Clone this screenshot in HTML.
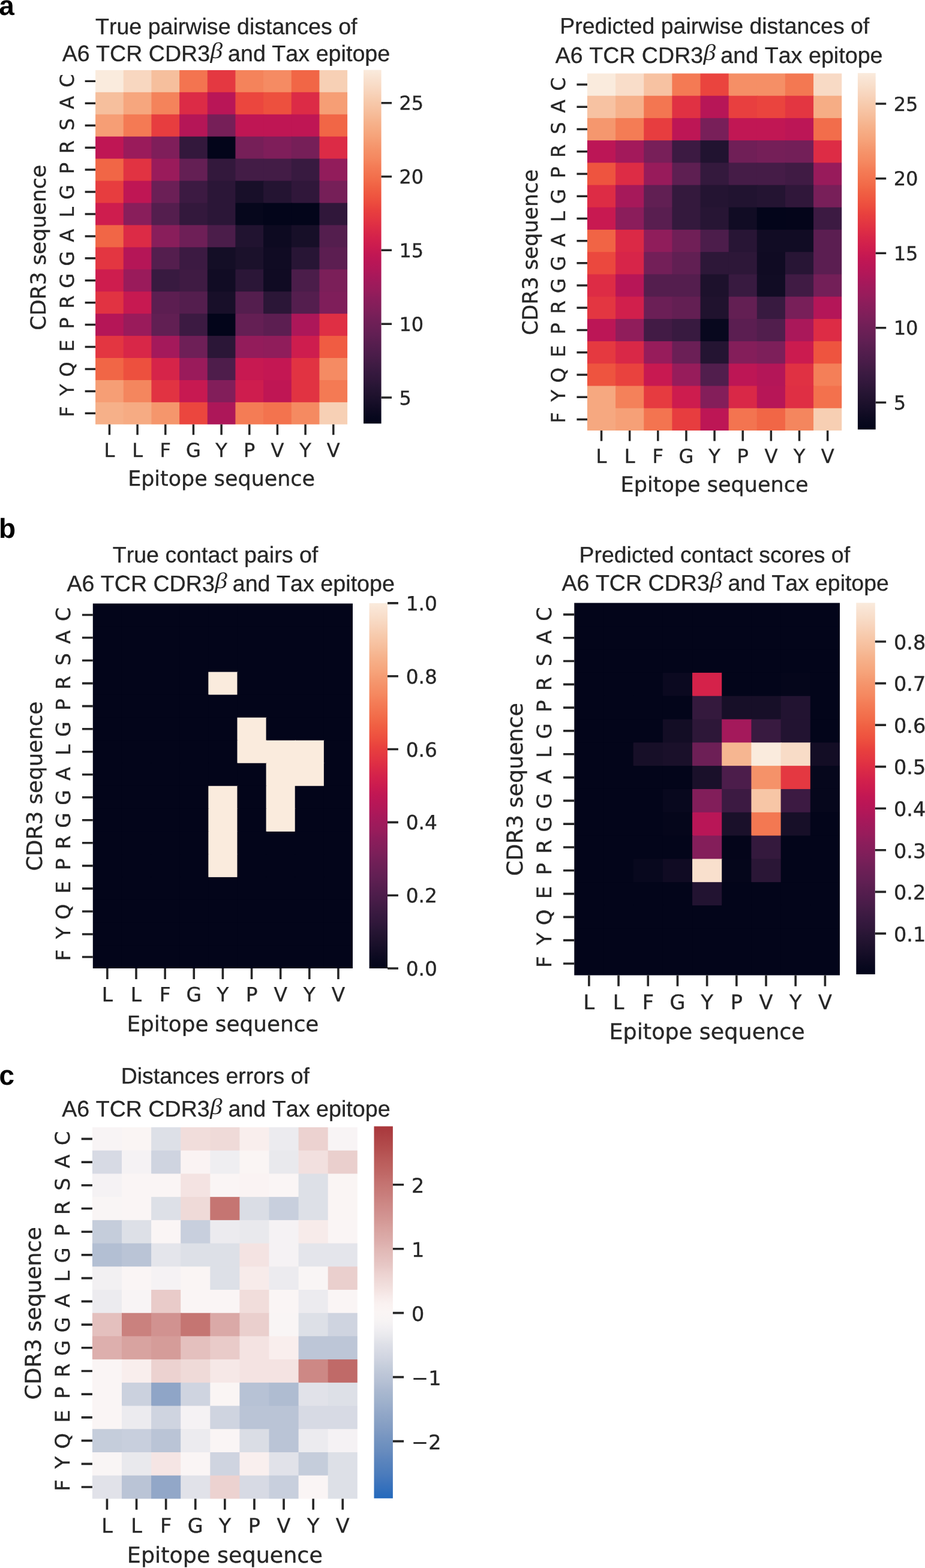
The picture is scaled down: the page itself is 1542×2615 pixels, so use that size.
<!DOCTYPE html>
<html lang="en"><head><meta charset="utf-8"><title>TCR–epitope distance and contact heatmaps</title>
<style>html,body{margin:0;padding:0;background:#fff}body{width:1542px;height:2615px;overflow:hidden}svg{display:block}</style>
</head><body>
<svg width="1542" height="2615" viewBox="0 0 1542 2615" role="img" aria-label="Heat maps of TCR CDR3β and Tax epitope distances, contacts and distance errors" text-rendering="geometricPrecision"><defs><linearGradient id="ga1" x1="0" y1="0" x2="0" y2="1"><stop offset="0.0000" stop-color="#faebdd"/><stop offset="0.0208" stop-color="#f9e3d2"/><stop offset="0.0417" stop-color="#f8dcc7"/><stop offset="0.0625" stop-color="#f8d4bc"/><stop offset="0.0833" stop-color="#f7ccaf"/><stop offset="0.1042" stop-color="#f7c4a4"/><stop offset="0.1250" stop-color="#f6bc99"/><stop offset="0.1458" stop-color="#f6b38d"/><stop offset="0.1667" stop-color="#f6ab83"/><stop offset="0.1875" stop-color="#f6a37a"/><stop offset="0.2083" stop-color="#f59970"/><stop offset="0.2292" stop-color="#f59067"/><stop offset="0.2500" stop-color="#f58860"/><stop offset="0.2708" stop-color="#f47d57"/><stop offset="0.2917" stop-color="#f37450"/><stop offset="0.3125" stop-color="#f26b49"/><stop offset="0.3333" stop-color="#f06043"/><stop offset="0.3542" stop-color="#ef5640"/><stop offset="0.3750" stop-color="#ec4c3e"/><stop offset="0.3958" stop-color="#e8403e"/><stop offset="0.4167" stop-color="#e43841"/><stop offset="0.4375" stop-color="#df2f44"/><stop offset="0.4583" stop-color="#d82748"/><stop offset="0.4792" stop-color="#d2204c"/><stop offset="0.5000" stop-color="#cb1b4f"/><stop offset="0.5208" stop-color="#c21753"/><stop offset="0.5417" stop-color="#ba1656"/><stop offset="0.5625" stop-color="#b21758"/><stop offset="0.5833" stop-color="#a8185a"/><stop offset="0.6042" stop-color="#9f1a5b"/><stop offset="0.6250" stop-color="#971c5b"/><stop offset="0.6458" stop-color="#8c1d5b"/><stop offset="0.6667" stop-color="#841e5a"/><stop offset="0.6875" stop-color="#7b1f59"/><stop offset="0.7083" stop-color="#711f57"/><stop offset="0.7292" stop-color="#691f55"/><stop offset="0.7500" stop-color="#611f53"/><stop offset="0.7708" stop-color="#581e4f"/><stop offset="0.7917" stop-color="#501d4c"/><stop offset="0.8125" stop-color="#481c48"/><stop offset="0.8333" stop-color="#3f1b43"/><stop offset="0.8542" stop-color="#37193f"/><stop offset="0.8750" stop-color="#30173a"/><stop offset="0.8958" stop-color="#271534"/><stop offset="0.9167" stop-color="#20122e"/><stop offset="0.9375" stop-color="#180f29"/><stop offset="0.9583" stop-color="#100b23"/><stop offset="0.9792" stop-color="#08081e"/><stop offset="1.0000" stop-color="#03051a"/></linearGradient><linearGradient id="ga2" x1="0" y1="0" x2="0" y2="1"><stop offset="0.0000" stop-color="#faebdd"/><stop offset="0.0208" stop-color="#f9e3d2"/><stop offset="0.0417" stop-color="#f8dcc7"/><stop offset="0.0625" stop-color="#f8d4bc"/><stop offset="0.0833" stop-color="#f7ccaf"/><stop offset="0.1042" stop-color="#f7c4a4"/><stop offset="0.1250" stop-color="#f6bc99"/><stop offset="0.1458" stop-color="#f6b38d"/><stop offset="0.1667" stop-color="#f6ab83"/><stop offset="0.1875" stop-color="#f6a37a"/><stop offset="0.2083" stop-color="#f59970"/><stop offset="0.2292" stop-color="#f59067"/><stop offset="0.2500" stop-color="#f58860"/><stop offset="0.2708" stop-color="#f47d57"/><stop offset="0.2917" stop-color="#f37450"/><stop offset="0.3125" stop-color="#f26b49"/><stop offset="0.3333" stop-color="#f06043"/><stop offset="0.3542" stop-color="#ef5640"/><stop offset="0.3750" stop-color="#ec4c3e"/><stop offset="0.3958" stop-color="#e8403e"/><stop offset="0.4167" stop-color="#e43841"/><stop offset="0.4375" stop-color="#df2f44"/><stop offset="0.4583" stop-color="#d82748"/><stop offset="0.4792" stop-color="#d2204c"/><stop offset="0.5000" stop-color="#cb1b4f"/><stop offset="0.5208" stop-color="#c21753"/><stop offset="0.5417" stop-color="#ba1656"/><stop offset="0.5625" stop-color="#b21758"/><stop offset="0.5833" stop-color="#a8185a"/><stop offset="0.6042" stop-color="#9f1a5b"/><stop offset="0.6250" stop-color="#971c5b"/><stop offset="0.6458" stop-color="#8c1d5b"/><stop offset="0.6667" stop-color="#841e5a"/><stop offset="0.6875" stop-color="#7b1f59"/><stop offset="0.7083" stop-color="#711f57"/><stop offset="0.7292" stop-color="#691f55"/><stop offset="0.7500" stop-color="#611f53"/><stop offset="0.7708" stop-color="#581e4f"/><stop offset="0.7917" stop-color="#501d4c"/><stop offset="0.8125" stop-color="#481c48"/><stop offset="0.8333" stop-color="#3f1b43"/><stop offset="0.8542" stop-color="#37193f"/><stop offset="0.8750" stop-color="#30173a"/><stop offset="0.8958" stop-color="#271534"/><stop offset="0.9167" stop-color="#20122e"/><stop offset="0.9375" stop-color="#180f29"/><stop offset="0.9583" stop-color="#100b23"/><stop offset="0.9792" stop-color="#08081e"/><stop offset="1.0000" stop-color="#03051a"/></linearGradient><linearGradient id="gb1" x1="0" y1="0" x2="0" y2="1"><stop offset="0.0000" stop-color="#faebdd"/><stop offset="0.0208" stop-color="#f9e3d2"/><stop offset="0.0417" stop-color="#f8dcc7"/><stop offset="0.0625" stop-color="#f8d4bc"/><stop offset="0.0833" stop-color="#f7ccaf"/><stop offset="0.1042" stop-color="#f7c4a4"/><stop offset="0.1250" stop-color="#f6bc99"/><stop offset="0.1458" stop-color="#f6b38d"/><stop offset="0.1667" stop-color="#f6ab83"/><stop offset="0.1875" stop-color="#f6a37a"/><stop offset="0.2083" stop-color="#f59970"/><stop offset="0.2292" stop-color="#f59067"/><stop offset="0.2500" stop-color="#f58860"/><stop offset="0.2708" stop-color="#f47d57"/><stop offset="0.2917" stop-color="#f37450"/><stop offset="0.3125" stop-color="#f26b49"/><stop offset="0.3333" stop-color="#f06043"/><stop offset="0.3542" stop-color="#ef5640"/><stop offset="0.3750" stop-color="#ec4c3e"/><stop offset="0.3958" stop-color="#e8403e"/><stop offset="0.4167" stop-color="#e43841"/><stop offset="0.4375" stop-color="#df2f44"/><stop offset="0.4583" stop-color="#d82748"/><stop offset="0.4792" stop-color="#d2204c"/><stop offset="0.5000" stop-color="#cb1b4f"/><stop offset="0.5208" stop-color="#c21753"/><stop offset="0.5417" stop-color="#ba1656"/><stop offset="0.5625" stop-color="#b21758"/><stop offset="0.5833" stop-color="#a8185a"/><stop offset="0.6042" stop-color="#9f1a5b"/><stop offset="0.6250" stop-color="#971c5b"/><stop offset="0.6458" stop-color="#8c1d5b"/><stop offset="0.6667" stop-color="#841e5a"/><stop offset="0.6875" stop-color="#7b1f59"/><stop offset="0.7083" stop-color="#711f57"/><stop offset="0.7292" stop-color="#691f55"/><stop offset="0.7500" stop-color="#611f53"/><stop offset="0.7708" stop-color="#581e4f"/><stop offset="0.7917" stop-color="#501d4c"/><stop offset="0.8125" stop-color="#481c48"/><stop offset="0.8333" stop-color="#3f1b43"/><stop offset="0.8542" stop-color="#37193f"/><stop offset="0.8750" stop-color="#30173a"/><stop offset="0.8958" stop-color="#271534"/><stop offset="0.9167" stop-color="#20122e"/><stop offset="0.9375" stop-color="#180f29"/><stop offset="0.9583" stop-color="#100b23"/><stop offset="0.9792" stop-color="#08081e"/><stop offset="1.0000" stop-color="#03051a"/></linearGradient><linearGradient id="gb2" x1="0" y1="0" x2="0" y2="1"><stop offset="0.0000" stop-color="#faebdd"/><stop offset="0.0208" stop-color="#f9e3d2"/><stop offset="0.0417" stop-color="#f8dcc7"/><stop offset="0.0625" stop-color="#f8d4bc"/><stop offset="0.0833" stop-color="#f7ccaf"/><stop offset="0.1042" stop-color="#f7c4a4"/><stop offset="0.1250" stop-color="#f6bc99"/><stop offset="0.1458" stop-color="#f6b38d"/><stop offset="0.1667" stop-color="#f6ab83"/><stop offset="0.1875" stop-color="#f6a37a"/><stop offset="0.2083" stop-color="#f59970"/><stop offset="0.2292" stop-color="#f59067"/><stop offset="0.2500" stop-color="#f58860"/><stop offset="0.2708" stop-color="#f47d57"/><stop offset="0.2917" stop-color="#f37450"/><stop offset="0.3125" stop-color="#f26b49"/><stop offset="0.3333" stop-color="#f06043"/><stop offset="0.3542" stop-color="#ef5640"/><stop offset="0.3750" stop-color="#ec4c3e"/><stop offset="0.3958" stop-color="#e8403e"/><stop offset="0.4167" stop-color="#e43841"/><stop offset="0.4375" stop-color="#df2f44"/><stop offset="0.4583" stop-color="#d82748"/><stop offset="0.4792" stop-color="#d2204c"/><stop offset="0.5000" stop-color="#cb1b4f"/><stop offset="0.5208" stop-color="#c21753"/><stop offset="0.5417" stop-color="#ba1656"/><stop offset="0.5625" stop-color="#b21758"/><stop offset="0.5833" stop-color="#a8185a"/><stop offset="0.6042" stop-color="#9f1a5b"/><stop offset="0.6250" stop-color="#971c5b"/><stop offset="0.6458" stop-color="#8c1d5b"/><stop offset="0.6667" stop-color="#841e5a"/><stop offset="0.6875" stop-color="#7b1f59"/><stop offset="0.7083" stop-color="#711f57"/><stop offset="0.7292" stop-color="#691f55"/><stop offset="0.7500" stop-color="#611f53"/><stop offset="0.7708" stop-color="#581e4f"/><stop offset="0.7917" stop-color="#501d4c"/><stop offset="0.8125" stop-color="#481c48"/><stop offset="0.8333" stop-color="#3f1b43"/><stop offset="0.8542" stop-color="#37193f"/><stop offset="0.8750" stop-color="#30173a"/><stop offset="0.8958" stop-color="#271534"/><stop offset="0.9167" stop-color="#20122e"/><stop offset="0.9375" stop-color="#180f29"/><stop offset="0.9583" stop-color="#100b23"/><stop offset="0.9792" stop-color="#08081e"/><stop offset="1.0000" stop-color="#03051a"/></linearGradient><linearGradient id="gc" x1="0" y1="0" x2="0" y2="1"><stop offset="0.0000" stop-color="#a9373b"/><stop offset="0.0208" stop-color="#ac3f42"/><stop offset="0.0417" stop-color="#b04748"/><stop offset="0.0625" stop-color="#b44f4f"/><stop offset="0.0833" stop-color="#b85857"/><stop offset="0.1042" stop-color="#bc605e"/><stop offset="0.1250" stop-color="#bf6765"/><stop offset="0.1458" stop-color="#c3706e"/><stop offset="0.1667" stop-color="#c67875"/><stop offset="0.1875" stop-color="#c97f7d"/><stop offset="0.2083" stop-color="#cd8885"/><stop offset="0.2292" stop-color="#d08f8d"/><stop offset="0.2500" stop-color="#d39794"/><stop offset="0.2708" stop-color="#d7a09d"/><stop offset="0.2917" stop-color="#daa8a5"/><stop offset="0.3125" stop-color="#ddafad"/><stop offset="0.3333" stop-color="#e1b9b6"/><stop offset="0.3542" stop-color="#e4c0be"/><stop offset="0.3750" stop-color="#e7c8c6"/><stop offset="0.3958" stop-color="#ecd2d0"/><stop offset="0.4167" stop-color="#efdad8"/><stop offset="0.4375" stop-color="#f3e2e0"/><stop offset="0.4583" stop-color="#f7ebea"/><stop offset="0.4792" stop-color="#faf2f1"/><stop offset="0.5000" stop-color="#faf5f4"/><stop offset="0.5208" stop-color="#f7f4f4"/><stop offset="0.5417" stop-color="#f1eff2"/><stop offset="0.5625" stop-color="#e9e9ed"/><stop offset="0.5833" stop-color="#dfe1e8"/><stop offset="0.6042" stop-color="#d7dae4"/><stop offset="0.6250" stop-color="#cfd4e0"/><stop offset="0.6458" stop-color="#c5cddb"/><stop offset="0.6667" stop-color="#bdc6d7"/><stop offset="0.6875" stop-color="#b5c0d4"/><stop offset="0.7083" stop-color="#abb9d0"/><stop offset="0.7292" stop-color="#a3b4cd"/><stop offset="0.7500" stop-color="#9baecb"/><stop offset="0.7708" stop-color="#92a7c8"/><stop offset="0.7917" stop-color="#8aa2c5"/><stop offset="0.8125" stop-color="#829cc3"/><stop offset="0.8333" stop-color="#7896c1"/><stop offset="0.8542" stop-color="#6f91bf"/><stop offset="0.8750" stop-color="#678bbe"/><stop offset="0.8958" stop-color="#5c85bd"/><stop offset="0.9167" stop-color="#5380bc"/><stop offset="0.9375" stop-color="#4a7bbc"/><stop offset="0.9583" stop-color="#3d74bc"/><stop offset="0.9792" stop-color="#316fbc"/><stop offset="1.0000" stop-color="#2369bd"/></linearGradient></defs><rect width="1542" height="2615" fill="#fff"/><g id="pa1"><rect x="157.1" y="114.9" width="49.97" height="40.23" fill="#faebdd"/><rect x="205.77" y="114.9" width="47.97" height="40.23" fill="#f8d7c0"/><rect x="252.43" y="114.9" width="47.97" height="40.23" fill="#f6bf9d"/><rect x="299.1" y="114.9" width="47.97" height="40.23" fill="#f37450"/><rect x="345.77" y="114.9" width="47.97" height="40.23" fill="#e43841"/><rect x="392.43" y="114.9" width="47.97" height="40.23" fill="#f4835b"/><rect x="439.1" y="114.9" width="47.97" height="40.23" fill="#f58b63"/><rect x="485.77" y="114.9" width="47.97" height="40.23" fill="#f16646"/><rect x="532.43" y="114.9" width="48.67" height="40.23" fill="#f7d0b5"/><rect x="157.1" y="153.83" width="49.97" height="38.23" fill="#f6bf9d"/><rect x="205.77" y="153.83" width="47.97" height="38.23" fill="#f6a67e"/><rect x="252.43" y="153.83" width="47.97" height="38.23" fill="#f4835b"/><rect x="299.1" y="153.83" width="47.97" height="38.23" fill="#dc2b46"/><rect x="345.77" y="153.83" width="47.97" height="38.23" fill="#b91657"/><rect x="392.43" y="153.83" width="47.97" height="38.23" fill="#eb463e"/><rect x="439.1" y="153.83" width="47.97" height="38.23" fill="#ed503e"/><rect x="485.77" y="153.83" width="47.97" height="38.23" fill="#dc2b46"/><rect x="532.43" y="153.83" width="48.67" height="38.23" fill="#f69e75"/><rect x="157.1" y="190.76" width="49.97" height="38.23" fill="#f69e75"/><rect x="205.77" y="190.76" width="47.97" height="38.23" fill="#f47a54"/><rect x="252.43" y="190.76" width="47.97" height="38.23" fill="#e73d3f"/><rect x="299.1" y="190.76" width="47.97" height="38.23" fill="#b51657"/><rect x="345.77" y="190.76" width="47.97" height="38.23" fill="#761f58"/><rect x="392.43" y="190.76" width="47.97" height="38.23" fill="#bf1654"/><rect x="439.1" y="190.76" width="47.97" height="38.23" fill="#bf1654"/><rect x="485.77" y="190.76" width="47.97" height="38.23" fill="#bf1654"/><rect x="532.43" y="190.76" width="48.67" height="38.23" fill="#f16646"/><rect x="157.1" y="227.69" width="49.97" height="38.23" fill="#bf1654"/><rect x="205.77" y="227.69" width="47.97" height="38.23" fill="#9a1b5b"/><rect x="252.43" y="227.69" width="47.97" height="38.23" fill="#7f1e5a"/><rect x="299.1" y="227.69" width="47.97" height="38.23" fill="#33183c"/><rect x="345.77" y="227.69" width="47.97" height="38.23" fill="#03051a"/><rect x="392.43" y="227.69" width="47.97" height="38.23" fill="#761f58"/><rect x="439.1" y="227.69" width="47.97" height="38.23" fill="#7f1e5a"/><rect x="485.77" y="227.69" width="47.97" height="38.23" fill="#761f58"/><rect x="532.43" y="227.69" width="48.67" height="38.23" fill="#dc2b46"/><rect x="157.1" y="264.62" width="49.97" height="38.23" fill="#f16646"/><rect x="205.77" y="264.62" width="47.97" height="38.23" fill="#e13342"/><rect x="252.43" y="264.62" width="47.97" height="38.23" fill="#9a1b5b"/><rect x="299.1" y="264.62" width="47.97" height="38.23" fill="#641f54"/><rect x="345.77" y="264.62" width="47.97" height="38.23" fill="#33183c"/><rect x="392.43" y="264.62" width="47.97" height="38.23" fill="#431c46"/><rect x="439.1" y="264.62" width="47.97" height="38.23" fill="#431c46"/><rect x="485.77" y="264.62" width="47.97" height="38.23" fill="#381a40"/><rect x="532.43" y="264.62" width="48.67" height="38.23" fill="#921c5b"/><rect x="157.1" y="301.56" width="49.97" height="38.23" fill="#e73d3f"/><rect x="205.77" y="301.56" width="47.97" height="38.23" fill="#bf1654"/><rect x="252.43" y="301.56" width="47.97" height="38.23" fill="#6b1f56"/><rect x="299.1" y="301.56" width="47.97" height="38.23" fill="#3c1a42"/><rect x="345.77" y="301.56" width="47.97" height="38.23" fill="#2b1637"/><rect x="392.43" y="301.56" width="47.97" height="38.23" fill="#180f29"/><rect x="439.1" y="301.56" width="47.97" height="38.23" fill="#241432"/><rect x="485.77" y="301.56" width="47.97" height="38.23" fill="#30173a"/><rect x="532.43" y="301.56" width="48.67" height="38.23" fill="#761f58"/><rect x="157.1" y="338.49" width="49.97" height="38.23" fill="#ce1d4e"/><rect x="205.77" y="338.49" width="47.97" height="38.23" fill="#891e5b"/><rect x="252.43" y="338.49" width="47.97" height="38.23" fill="#541e4e"/><rect x="299.1" y="338.49" width="47.97" height="38.23" fill="#33183c"/><rect x="345.77" y="338.49" width="47.97" height="38.23" fill="#2b1637"/><rect x="392.43" y="338.49" width="47.97" height="38.23" fill="#06071c"/><rect x="439.1" y="338.49" width="47.97" height="38.23" fill="#03051a"/><rect x="485.77" y="338.49" width="47.97" height="38.23" fill="#03051a"/><rect x="532.43" y="338.49" width="48.67" height="38.23" fill="#30173a"/><rect x="157.1" y="375.42" width="49.97" height="38.23" fill="#f16646"/><rect x="205.77" y="375.42" width="47.97" height="38.23" fill="#dc2b46"/><rect x="252.43" y="375.42" width="47.97" height="38.23" fill="#891e5b"/><rect x="299.1" y="375.42" width="47.97" height="38.23" fill="#6e1f57"/><rect x="345.77" y="375.42" width="47.97" height="38.23" fill="#4b1d4a"/><rect x="392.43" y="375.42" width="47.97" height="38.23" fill="#211330"/><rect x="439.1" y="375.42" width="47.97" height="38.23" fill="#0d0a21"/><rect x="485.77" y="375.42" width="47.97" height="38.23" fill="#170f28"/><rect x="532.43" y="375.42" width="48.67" height="38.23" fill="#541e4e"/><rect x="157.1" y="412.35" width="49.97" height="38.23" fill="#e33641"/><rect x="205.77" y="412.35" width="47.97" height="38.23" fill="#b51657"/><rect x="252.43" y="412.35" width="47.97" height="38.23" fill="#541e4e"/><rect x="299.1" y="412.35" width="47.97" height="38.23" fill="#3c1a42"/><rect x="345.77" y="412.35" width="47.97" height="38.23" fill="#140e26"/><rect x="392.43" y="412.35" width="47.97" height="38.23" fill="#1b112b"/><rect x="439.1" y="412.35" width="47.97" height="38.23" fill="#100b23"/><rect x="485.77" y="412.35" width="47.97" height="38.23" fill="#281535"/><rect x="532.43" y="412.35" width="48.67" height="38.23" fill="#5c1e51"/><rect x="157.1" y="449.28" width="49.97" height="38.23" fill="#ce1d4e"/><rect x="205.77" y="449.28" width="47.97" height="38.23" fill="#9a1b5b"/><rect x="252.43" y="449.28" width="47.97" height="38.23" fill="#381a40"/><rect x="299.1" y="449.28" width="47.97" height="38.23" fill="#3f1b43"/><rect x="345.77" y="449.28" width="47.97" height="38.23" fill="#110c24"/><rect x="392.43" y="449.28" width="47.97" height="38.23" fill="#2b1637"/><rect x="439.1" y="449.28" width="47.97" height="38.23" fill="#100b23"/><rect x="485.77" y="449.28" width="47.97" height="38.23" fill="#4b1d4a"/><rect x="532.43" y="449.28" width="48.67" height="38.23" fill="#7b1f59"/><rect x="157.1" y="486.21" width="49.97" height="38.23" fill="#e13342"/><rect x="205.77" y="486.21" width="47.97" height="38.23" fill="#c71951"/><rect x="252.43" y="486.21" width="47.97" height="38.23" fill="#5c1e51"/><rect x="299.1" y="486.21" width="47.97" height="38.23" fill="#541e4e"/><rect x="345.77" y="486.21" width="47.97" height="38.23" fill="#180f29"/><rect x="392.43" y="486.21" width="47.97" height="38.23" fill="#541e4e"/><rect x="439.1" y="486.21" width="47.97" height="38.23" fill="#2b1637"/><rect x="485.77" y="486.21" width="47.97" height="38.23" fill="#541e4e"/><rect x="532.43" y="486.21" width="48.67" height="38.23" fill="#7f1e5a"/><rect x="157.1" y="523.14" width="49.97" height="38.23" fill="#b51657"/><rect x="205.77" y="523.14" width="47.97" height="38.23" fill="#9a1b5b"/><rect x="252.43" y="523.14" width="47.97" height="38.23" fill="#611f53"/><rect x="299.1" y="523.14" width="47.97" height="38.23" fill="#3c1a42"/><rect x="345.77" y="523.14" width="47.97" height="38.23" fill="#03051a"/><rect x="392.43" y="523.14" width="47.97" height="38.23" fill="#641f54"/><rect x="439.1" y="523.14" width="47.97" height="38.23" fill="#5c1e51"/><rect x="485.77" y="523.14" width="47.97" height="38.23" fill="#ad1759"/><rect x="532.43" y="523.14" width="48.67" height="38.23" fill="#df2f44"/><rect x="157.1" y="560.07" width="49.97" height="38.23" fill="#e33641"/><rect x="205.77" y="560.07" width="47.97" height="38.23" fill="#d82748"/><rect x="252.43" y="560.07" width="47.97" height="38.23" fill="#a4195b"/><rect x="299.1" y="560.07" width="47.97" height="38.23" fill="#6e1f57"/><rect x="345.77" y="560.07" width="47.97" height="38.23" fill="#2b1637"/><rect x="392.43" y="560.07" width="47.97" height="38.23" fill="#931c5b"/><rect x="439.1" y="560.07" width="47.97" height="38.23" fill="#901d5b"/><rect x="485.77" y="560.07" width="47.97" height="38.23" fill="#ce1d4e"/><rect x="532.43" y="560.07" width="48.67" height="38.23" fill="#f05c42"/><rect x="157.1" y="597.01" width="49.97" height="38.23" fill="#f16646"/><rect x="205.77" y="597.01" width="47.97" height="38.23" fill="#ed503e"/><rect x="252.43" y="597.01" width="47.97" height="38.23" fill="#d62449"/><rect x="299.1" y="597.01" width="47.97" height="38.23" fill="#9a1b5b"/><rect x="345.77" y="597.01" width="47.97" height="38.23" fill="#4e1d4b"/><rect x="392.43" y="597.01" width="47.97" height="38.23" fill="#c71951"/><rect x="439.1" y="597.01" width="47.97" height="38.23" fill="#c41753"/><rect x="485.77" y="597.01" width="47.97" height="38.23" fill="#e13342"/><rect x="532.43" y="597.01" width="48.67" height="38.23" fill="#f58b63"/><rect x="157.1" y="633.94" width="49.97" height="38.23" fill="#f69e75"/><rect x="205.77" y="633.94" width="47.97" height="38.23" fill="#f4865e"/><rect x="252.43" y="633.94" width="47.97" height="38.23" fill="#e13342"/><rect x="299.1" y="633.94" width="47.97" height="38.23" fill="#c71951"/><rect x="345.77" y="633.94" width="47.97" height="38.23" fill="#821e5a"/><rect x="392.43" y="633.94" width="47.97" height="38.23" fill="#ce1d4e"/><rect x="439.1" y="633.94" width="47.97" height="38.23" fill="#bf1654"/><rect x="485.77" y="633.94" width="47.97" height="38.23" fill="#e13342"/><rect x="532.43" y="633.94" width="48.67" height="38.23" fill="#f47a54"/><rect x="157.1" y="670.87" width="49.97" height="38.93" fill="#f6b089"/><rect x="205.77" y="670.87" width="47.97" height="38.93" fill="#f6ab83"/><rect x="252.43" y="670.87" width="47.97" height="38.93" fill="#f5966c"/><rect x="299.1" y="670.87" width="47.97" height="38.93" fill="#eb463e"/><rect x="345.77" y="670.87" width="47.97" height="38.93" fill="#ad1759"/><rect x="392.43" y="670.87" width="47.97" height="38.93" fill="#f47c55"/><rect x="439.1" y="670.87" width="47.97" height="38.93" fill="#f3734e"/><rect x="485.77" y="670.87" width="47.97" height="38.93" fill="#f58a61"/><rect x="532.43" y="670.87" width="48.67" height="38.93" fill="#f7d0b5"/><path d="M155.1 112.9H583.1V711.8H155.1ZM159.1 116.9V707.8H579.1V116.9Z" fill="#fff" fill-rule="evenodd"/><rect x="606" y="116.6" width="29.6" height="589.8" fill="url(#ga1)"/><path d="M141.64 135.37H159.1M141.64 172.3H159.1M141.64 209.23H159.1M141.64 246.16H159.1M141.64 283.09H159.1M141.64 320.02H159.1M141.64 356.95H159.1M141.64 393.88H159.1M141.64 430.82H159.1M141.64 467.75H159.1M141.64 504.68H159.1M141.64 541.61H159.1M141.64 578.54H159.1M141.64 615.47H159.1M141.64 652.4H159.1M141.64 689.33H159.1M182.43 707.8V725.26M229.1 707.8V725.26M275.77 707.8V725.26M322.43 707.8V725.26M369.1 707.8V725.26M415.77 707.8V725.26M462.43 707.8V725.26M509.1 707.8V725.26M555.77 707.8V725.26M635.6 662.99H653.06M635.6 540.17H653.06M635.6 417.35H653.06M635.6 294.52H653.06M635.6 171.7H653.06" stroke="#262626" stroke-width="3.49" fill="none"/><g font-family="'DejaVu Sans', sans-serif" font-size="32.01" fill="#262626" stroke="#262626" stroke-width="0.35" text-anchor="middle"><text transform="translate(122.71 123.3) rotate(-90)" text-anchor="end">C</text><text transform="translate(122.71 160.23) rotate(-90)" text-anchor="end">A</text><text transform="translate(122.71 197.16) rotate(-90)" text-anchor="end">S</text><text transform="translate(122.71 234.09) rotate(-90)" text-anchor="end">R</text><text transform="translate(122.71 271.02) rotate(-90)" text-anchor="end">P</text><text transform="translate(122.71 307.96) rotate(-90)" text-anchor="end">G</text><text transform="translate(122.71 344.89) rotate(-90)" text-anchor="end">L</text><text transform="translate(122.71 381.82) rotate(-90)" text-anchor="end">A</text><text transform="translate(122.71 418.75) rotate(-90)" text-anchor="end">G</text><text transform="translate(122.71 455.68) rotate(-90)" text-anchor="end">G</text><text transform="translate(122.71 492.61) rotate(-90)" text-anchor="end">R</text><text transform="translate(122.71 529.54) rotate(-90)" text-anchor="end">P</text><text transform="translate(122.71 566.47) rotate(-90)" text-anchor="end">E</text><text transform="translate(122.71 603.41) rotate(-90)" text-anchor="end">Q</text><text transform="translate(122.71 640.34) rotate(-90)" text-anchor="end">Y</text><text transform="translate(122.71 677.27) rotate(-90)" text-anchor="end">F</text><text x="182.43" y="761.69">L</text><text x="229.1" y="761.69">L</text><text x="275.77" y="761.69">F</text><text x="322.43" y="761.69">G</text><text x="369.1" y="761.69">Y</text><text x="415.77" y="761.69">P</text><text x="462.43" y="761.69">V</text><text x="509.1" y="761.69">Y</text><text x="555.77" y="761.69">V</text></g><g font-family="'DejaVu Sans', sans-serif" font-size="32.01" fill="#262626" stroke="#262626" stroke-width="0.35"><text x="665.48" y="674.68">5</text><text x="665.48" y="551.85">10</text><text x="665.48" y="429.03">15</text><text x="665.48" y="306.21">20</text><text x="665.48" y="183.38">25</text></g><g font-family="'DejaVu Sans', sans-serif" font-size="34.92" fill="#262626" stroke="#262626" stroke-width="0.35" text-anchor="middle"><text x="369.1" y="809.84">Epitope sequence</text><text transform="translate(76.46 412.74) rotate(-90)" font-size="34.75">CDR3 sequence</text></g><g font-family="'Liberation Sans', sans-serif" font-size="37.6" fill="#262626" stroke="#262626" stroke-width="0.3" style="font-kerning:none"><text x="159" y="56.9" font-size="37.58">True pairwise distances of</text><text x="103.7" y="102">A6 TCR CDR3<tspan x="350.6" y="97.4" font-family="'Liberation Serif', serif" font-style="italic" stroke="none" font-size="37.6" textLength="20.6" lengthAdjust="spacingAndGlyphs">β</tspan><tspan x="369.52" y="102" font-size="37.7"> and Tax epitope</tspan></text></g></g>
<g id="pa2"><rect x="977" y="120.5" width="50.43" height="40.52" fill="#faebdd"/><rect x="1026.13" y="120.5" width="48.43" height="40.52" fill="#f9ddc9"/><rect x="1073.27" y="120.5" width="48.43" height="40.52" fill="#f7c2a2"/><rect x="1120.4" y="120.5" width="48.43" height="40.52" fill="#f47a54"/><rect x="1167.53" y="120.5" width="48.43" height="40.52" fill="#ea443e"/><rect x="1214.67" y="120.5" width="48.43" height="40.52" fill="#f58f66"/><rect x="1261.8" y="120.5" width="48.43" height="40.52" fill="#f58f66"/><rect x="1308.93" y="120.5" width="48.43" height="40.52" fill="#f37852"/><rect x="1356.07" y="120.5" width="49.13" height="40.52" fill="#f8dac5"/><rect x="977" y="159.72" width="50.43" height="38.52" fill="#f7c2a2"/><rect x="1026.13" y="159.72" width="48.43" height="38.52" fill="#f6b18b"/><rect x="1073.27" y="159.72" width="48.43" height="38.52" fill="#f37651"/><rect x="1120.4" y="159.72" width="48.43" height="38.52" fill="#e03143"/><rect x="1167.53" y="159.72" width="48.43" height="38.52" fill="#b71657"/><rect x="1214.67" y="159.72" width="48.43" height="38.52" fill="#e83f3f"/><rect x="1261.8" y="159.72" width="48.43" height="38.52" fill="#ea443e"/><rect x="1308.93" y="159.72" width="48.43" height="38.52" fill="#e33641"/><rect x="1356.07" y="159.72" width="49.13" height="38.52" fill="#f6ad85"/><rect x="977" y="196.94" width="50.43" height="38.52" fill="#f5976e"/><rect x="1026.13" y="196.94" width="48.43" height="38.52" fill="#f47c55"/><rect x="1073.27" y="196.94" width="48.43" height="38.52" fill="#e73d3f"/><rect x="1120.4" y="196.94" width="48.43" height="38.52" fill="#bd1655"/><rect x="1167.53" y="196.94" width="48.43" height="38.52" fill="#781f59"/><rect x="1214.67" y="196.94" width="48.43" height="38.52" fill="#c11754"/><rect x="1261.8" y="196.94" width="48.43" height="38.52" fill="#c11754"/><rect x="1308.93" y="196.94" width="48.43" height="38.52" fill="#bc1656"/><rect x="1356.07" y="196.94" width="49.13" height="38.52" fill="#f26d4b"/><rect x="977" y="234.16" width="50.43" height="38.52" fill="#bc1656"/><rect x="1026.13" y="234.16" width="48.43" height="38.52" fill="#a3195b"/><rect x="1073.27" y="234.16" width="48.43" height="38.52" fill="#781f59"/><rect x="1120.4" y="234.16" width="48.43" height="38.52" fill="#3c1a42"/><rect x="1167.53" y="234.16" width="48.43" height="38.52" fill="#211330"/><rect x="1214.67" y="234.16" width="48.43" height="38.52" fill="#701f57"/><rect x="1261.8" y="234.16" width="48.43" height="38.52" fill="#751f58"/><rect x="1308.93" y="234.16" width="48.43" height="38.52" fill="#731f58"/><rect x="1356.07" y="234.16" width="49.13" height="38.52" fill="#dd2c45"/><rect x="977" y="271.38" width="50.43" height="38.52" fill="#ee543f"/><rect x="1026.13" y="271.38" width="48.43" height="38.52" fill="#dd2c45"/><rect x="1073.27" y="271.38" width="48.43" height="38.52" fill="#981b5b"/><rect x="1120.4" y="271.38" width="48.43" height="38.52" fill="#5e1f52"/><rect x="1167.53" y="271.38" width="48.43" height="38.52" fill="#34193d"/><rect x="1214.67" y="271.38" width="48.43" height="38.52" fill="#451c47"/><rect x="1261.8" y="271.38" width="48.43" height="38.52" fill="#451c47"/><rect x="1308.93" y="271.38" width="48.43" height="38.52" fill="#401b44"/><rect x="1356.07" y="271.38" width="49.13" height="38.52" fill="#981b5b"/><rect x="977" y="308.59" width="50.43" height="38.52" fill="#dd2c45"/><rect x="1026.13" y="308.59" width="48.43" height="38.52" fill="#a6195a"/><rect x="1073.27" y="308.59" width="48.43" height="38.52" fill="#611f53"/><rect x="1120.4" y="308.59" width="48.43" height="38.52" fill="#34193d"/><rect x="1167.53" y="308.59" width="48.43" height="38.52" fill="#241432"/><rect x="1214.67" y="308.59" width="48.43" height="38.52" fill="#211330"/><rect x="1261.8" y="308.59" width="48.43" height="38.52" fill="#241432"/><rect x="1308.93" y="308.59" width="48.43" height="38.52" fill="#30173a"/><rect x="1356.07" y="308.59" width="49.13" height="38.52" fill="#781f59"/><rect x="977" y="345.81" width="50.43" height="38.52" fill="#c81951"/><rect x="1026.13" y="345.81" width="48.43" height="38.52" fill="#8b1d5b"/><rect x="1073.27" y="345.81" width="48.43" height="38.52" fill="#591e50"/><rect x="1120.4" y="345.81" width="48.43" height="38.52" fill="#34193d"/><rect x="1167.53" y="345.81" width="48.43" height="38.52" fill="#271534"/><rect x="1214.67" y="345.81" width="48.43" height="38.52" fill="#110c24"/><rect x="1261.8" y="345.81" width="48.43" height="38.52" fill="#03051a"/><rect x="1308.93" y="345.81" width="48.43" height="38.52" fill="#04051a"/><rect x="1356.07" y="345.81" width="49.13" height="38.52" fill="#3c1a42"/><rect x="977" y="383.03" width="50.43" height="38.52" fill="#f16445"/><rect x="1026.13" y="383.03" width="48.43" height="38.52" fill="#db2946"/><rect x="1073.27" y="383.03" width="48.43" height="38.52" fill="#901d5b"/><rect x="1120.4" y="383.03" width="48.43" height="38.52" fill="#701f57"/><rect x="1167.53" y="383.03" width="48.43" height="38.52" fill="#4c1d4b"/><rect x="1214.67" y="383.03" width="48.43" height="38.52" fill="#281535"/><rect x="1261.8" y="383.03" width="48.43" height="38.52" fill="#110c24"/><rect x="1308.93" y="383.03" width="48.43" height="38.52" fill="#110c24"/><rect x="1356.07" y="383.03" width="49.13" height="38.52" fill="#5b1e51"/><rect x="977" y="420.25" width="50.43" height="38.52" fill="#eb483e"/><rect x="1026.13" y="420.25" width="48.43" height="38.52" fill="#d72549"/><rect x="1073.27" y="420.25" width="48.43" height="38.52" fill="#731f58"/><rect x="1120.4" y="420.25" width="48.43" height="38.52" fill="#611f53"/><rect x="1167.53" y="420.25" width="48.43" height="38.52" fill="#2d1738"/><rect x="1214.67" y="420.25" width="48.43" height="38.52" fill="#2d1738"/><rect x="1261.8" y="420.25" width="48.43" height="38.52" fill="#100b23"/><rect x="1308.93" y="420.25" width="48.43" height="38.52" fill="#281535"/><rect x="1356.07" y="420.25" width="49.13" height="38.52" fill="#5b1e51"/><rect x="977" y="457.47" width="50.43" height="38.52" fill="#dd2c45"/><rect x="1026.13" y="457.47" width="48.43" height="38.52" fill="#b71657"/><rect x="1073.27" y="457.47" width="48.43" height="38.52" fill="#541e4e"/><rect x="1120.4" y="457.47" width="48.43" height="38.52" fill="#541e4e"/><rect x="1167.53" y="457.47" width="48.43" height="38.52" fill="#1d112c"/><rect x="1214.67" y="457.47" width="48.43" height="38.52" fill="#381a40"/><rect x="1261.8" y="457.47" width="48.43" height="38.52" fill="#110c24"/><rect x="1308.93" y="457.47" width="48.43" height="38.52" fill="#401b44"/><rect x="1356.07" y="457.47" width="49.13" height="38.52" fill="#731f58"/><rect x="977" y="494.69" width="50.43" height="38.52" fill="#e33641"/><rect x="1026.13" y="494.69" width="48.43" height="38.52" fill="#d11f4c"/><rect x="1073.27" y="494.69" width="48.43" height="38.52" fill="#6b1f56"/><rect x="1120.4" y="494.69" width="48.43" height="38.52" fill="#631f53"/><rect x="1167.53" y="494.69" width="48.43" height="38.52" fill="#20122e"/><rect x="1214.67" y="494.69" width="48.43" height="38.52" fill="#631f53"/><rect x="1261.8" y="494.69" width="48.43" height="38.52" fill="#381a40"/><rect x="1308.93" y="494.69" width="48.43" height="38.52" fill="#781f59"/><rect x="1356.07" y="494.69" width="49.13" height="38.52" fill="#b41658"/><rect x="977" y="531.91" width="50.43" height="38.52" fill="#bc1656"/><rect x="1026.13" y="531.91" width="48.43" height="38.52" fill="#901d5b"/><rect x="1073.27" y="531.91" width="48.43" height="38.52" fill="#421b45"/><rect x="1120.4" y="531.91" width="48.43" height="38.52" fill="#381a40"/><rect x="1167.53" y="531.91" width="48.43" height="38.52" fill="#08081e"/><rect x="1214.67" y="531.91" width="48.43" height="38.52" fill="#5b1e51"/><rect x="1261.8" y="531.91" width="48.43" height="38.52" fill="#511e4d"/><rect x="1308.93" y="531.91" width="48.43" height="38.52" fill="#aa185a"/><rect x="1356.07" y="531.91" width="49.13" height="38.52" fill="#dd2c45"/><rect x="977" y="569.12" width="50.43" height="38.52" fill="#e53940"/><rect x="1026.13" y="569.12" width="48.43" height="38.52" fill="#d92847"/><rect x="1073.27" y="569.12" width="48.43" height="38.52" fill="#971c5b"/><rect x="1120.4" y="569.12" width="48.43" height="38.52" fill="#6b1f56"/><rect x="1167.53" y="569.12" width="48.43" height="38.52" fill="#241432"/><rect x="1214.67" y="569.12" width="48.43" height="38.52" fill="#841e5a"/><rect x="1261.8" y="569.12" width="48.43" height="38.52" fill="#7d1f5a"/><rect x="1308.93" y="569.12" width="48.43" height="38.52" fill="#cb1b4f"/><rect x="1356.07" y="569.12" width="49.13" height="38.52" fill="#ee543f"/><rect x="977" y="606.34" width="50.43" height="38.52" fill="#ee543f"/><rect x="1026.13" y="606.34" width="48.43" height="38.52" fill="#e9423e"/><rect x="1073.27" y="606.34" width="48.43" height="38.52" fill="#c81951"/><rect x="1120.4" y="606.34" width="48.43" height="38.52" fill="#971c5b"/><rect x="1167.53" y="606.34" width="48.43" height="38.52" fill="#511e4d"/><rect x="1214.67" y="606.34" width="48.43" height="38.52" fill="#bd1655"/><rect x="1261.8" y="606.34" width="48.43" height="38.52" fill="#b41658"/><rect x="1308.93" y="606.34" width="48.43" height="38.52" fill="#e03143"/><rect x="1356.07" y="606.34" width="49.13" height="38.52" fill="#f47f58"/><rect x="977" y="643.56" width="50.43" height="38.52" fill="#f6a880"/><rect x="1026.13" y="643.56" width="48.43" height="38.52" fill="#f4815a"/><rect x="1073.27" y="643.56" width="48.43" height="38.52" fill="#e63b40"/><rect x="1120.4" y="643.56" width="48.43" height="38.52" fill="#cd1c4e"/><rect x="1167.53" y="643.56" width="48.43" height="38.52" fill="#841e5a"/><rect x="1214.67" y="643.56" width="48.43" height="38.52" fill="#d92847"/><rect x="1261.8" y="643.56" width="48.43" height="38.52" fill="#b71657"/><rect x="1308.93" y="643.56" width="48.43" height="38.52" fill="#df2f44"/><rect x="1356.07" y="643.56" width="49.13" height="38.52" fill="#f3714d"/><rect x="977" y="680.78" width="50.43" height="39.22" fill="#f6a880"/><rect x="1026.13" y="680.78" width="48.43" height="39.22" fill="#f6a077"/><rect x="1073.27" y="680.78" width="48.43" height="39.22" fill="#f37450"/><rect x="1120.4" y="680.78" width="48.43" height="39.22" fill="#e73d3f"/><rect x="1167.53" y="680.78" width="48.43" height="39.22" fill="#bd1655"/><rect x="1214.67" y="680.78" width="48.43" height="39.22" fill="#f37450"/><rect x="1261.8" y="680.78" width="48.43" height="39.22" fill="#f16646"/><rect x="1308.93" y="680.78" width="48.43" height="39.22" fill="#f4865e"/><rect x="1356.07" y="680.78" width="49.13" height="39.22" fill="#f7cfb3"/><path d="M975 118.5H1407.2V722H975ZM979 122.5V718H1403.2V122.5Z" fill="#fff" fill-rule="evenodd"/><rect x="1429.9" y="121.8" width="29.8" height="594.5" fill="url(#ga2)"/><path d="M961.48 141.11H979M961.48 178.33H979M961.48 215.55H979M961.48 252.77H979M961.48 289.98H979M961.48 327.2H979M961.48 364.42H979M961.48 401.64H979M961.48 438.86H979M961.48 476.08H979M961.48 513.3H979M961.48 550.52H979M961.48 587.73H979M961.48 624.95H979M961.48 662.17H979M961.48 699.39H979M1002.57 718V735.52M1049.7 718V735.52M1096.83 718V735.52M1143.97 718V735.52M1191.1 718V735.52M1238.23 718V735.52M1285.37 718V735.52M1332.5 718V735.52M1379.63 718V735.52M1459.7 671.22H1477.22M1459.7 546.69H1477.22M1459.7 422.16H1477.22M1459.7 297.63H1477.22M1459.7 173.11H1477.22" stroke="#262626" stroke-width="3.5" fill="none"/><g font-family="'DejaVu Sans', sans-serif" font-size="32.13" fill="#262626" stroke="#262626" stroke-width="0.35" text-anchor="middle"><text transform="translate(942.47 129) rotate(-90)" text-anchor="end">C</text><text transform="translate(942.47 166.22) rotate(-90)" text-anchor="end">A</text><text transform="translate(942.47 203.44) rotate(-90)" text-anchor="end">S</text><text transform="translate(942.47 240.66) rotate(-90)" text-anchor="end">R</text><text transform="translate(942.47 277.87) rotate(-90)" text-anchor="end">P</text><text transform="translate(942.47 315.09) rotate(-90)" text-anchor="end">G</text><text transform="translate(942.47 352.31) rotate(-90)" text-anchor="end">L</text><text transform="translate(942.47 389.53) rotate(-90)" text-anchor="end">A</text><text transform="translate(942.47 426.75) rotate(-90)" text-anchor="end">G</text><text transform="translate(942.47 463.97) rotate(-90)" text-anchor="end">G</text><text transform="translate(942.47 501.19) rotate(-90)" text-anchor="end">R</text><text transform="translate(942.47 538.41) rotate(-90)" text-anchor="end">P</text><text transform="translate(942.47 575.62) rotate(-90)" text-anchor="end">E</text><text transform="translate(942.47 612.84) rotate(-90)" text-anchor="end">Q</text><text transform="translate(942.47 650.06) rotate(-90)" text-anchor="end">Y</text><text transform="translate(942.47 687.28) rotate(-90)" text-anchor="end">F</text><text x="1002.57" y="772.09">L</text><text x="1049.7" y="772.09">L</text><text x="1096.83" y="772.09">F</text><text x="1143.97" y="772.09">G</text><text x="1191.1" y="772.09">Y</text><text x="1238.23" y="772.09">P</text><text x="1285.37" y="772.09">V</text><text x="1332.5" y="772.09">Y</text><text x="1379.63" y="772.09">V</text></g><g font-family="'DejaVu Sans', sans-serif" font-size="32.13" fill="#262626" stroke="#262626" stroke-width="0.35"><text x="1489.68" y="682.95">5</text><text x="1489.68" y="558.42">10</text><text x="1489.68" y="433.89">15</text><text x="1489.68" y="309.36">20</text><text x="1489.68" y="184.83">25</text></g><g font-family="'DejaVu Sans', sans-serif" font-size="35.05" fill="#262626" stroke="#262626" stroke-width="0.35" text-anchor="middle"><text x="1191.1" y="820.41">Epitope sequence</text><text transform="translate(896.06 420.64) rotate(-90)" font-size="34.87">CDR3 sequence</text></g><g font-family="'Liberation Sans', sans-serif" font-size="37.6" fill="#262626" stroke="#262626" stroke-width="0.3" style="font-kerning:none"><text x="933.2" y="56.2" font-size="37.45">Predicted pairwise distances of</text><text x="925.8" y="105">A6 TCR CDR3<tspan x="1172.6" y="100.4" font-family="'Liberation Serif', serif" font-style="italic" stroke="none" font-size="37.6" textLength="20.6" lengthAdjust="spacingAndGlyphs">β</tspan><tspan x="1190.82" y="105" font-size="37.7"> and Tax epitope</tspan></text></g></g>
<g id="pb1"><rect x="152.8" y="1004.5" width="51.43" height="41.33" fill="#03051a"/><rect x="202.93" y="1004.5" width="49.43" height="41.33" fill="#03051a"/><rect x="251.07" y="1004.5" width="49.43" height="41.33" fill="#03051a"/><rect x="299.2" y="1004.5" width="49.43" height="41.33" fill="#03051a"/><rect x="347.33" y="1004.5" width="49.43" height="41.33" fill="#03051a"/><rect x="395.47" y="1004.5" width="49.43" height="41.33" fill="#03051a"/><rect x="443.6" y="1004.5" width="49.43" height="41.33" fill="#03051a"/><rect x="491.73" y="1004.5" width="49.43" height="41.33" fill="#03051a"/><rect x="539.87" y="1004.5" width="50.13" height="41.33" fill="#03051a"/><rect x="152.8" y="1044.53" width="51.43" height="39.33" fill="#03051a"/><rect x="202.93" y="1044.53" width="49.43" height="39.33" fill="#03051a"/><rect x="251.07" y="1044.53" width="49.43" height="39.33" fill="#03051a"/><rect x="299.2" y="1044.53" width="49.43" height="39.33" fill="#03051a"/><rect x="347.33" y="1044.53" width="49.43" height="39.33" fill="#03051a"/><rect x="395.47" y="1044.53" width="49.43" height="39.33" fill="#03051a"/><rect x="443.6" y="1044.53" width="49.43" height="39.33" fill="#03051a"/><rect x="491.73" y="1044.53" width="49.43" height="39.33" fill="#03051a"/><rect x="539.87" y="1044.53" width="50.13" height="39.33" fill="#03051a"/><rect x="152.8" y="1082.56" width="51.43" height="39.33" fill="#03051a"/><rect x="202.93" y="1082.56" width="49.43" height="39.33" fill="#03051a"/><rect x="251.07" y="1082.56" width="49.43" height="39.33" fill="#03051a"/><rect x="299.2" y="1082.56" width="49.43" height="39.33" fill="#03051a"/><rect x="347.33" y="1082.56" width="49.43" height="39.33" fill="#03051a"/><rect x="395.47" y="1082.56" width="49.43" height="39.33" fill="#03051a"/><rect x="443.6" y="1082.56" width="49.43" height="39.33" fill="#03051a"/><rect x="491.73" y="1082.56" width="49.43" height="39.33" fill="#03051a"/><rect x="539.87" y="1082.56" width="50.13" height="39.33" fill="#03051a"/><rect x="152.8" y="1120.59" width="51.43" height="39.33" fill="#03051a"/><rect x="202.93" y="1120.59" width="49.43" height="39.33" fill="#03051a"/><rect x="251.07" y="1120.59" width="49.43" height="39.33" fill="#03051a"/><rect x="299.2" y="1120.59" width="49.43" height="39.33" fill="#03051a"/><rect x="347.33" y="1120.59" width="49.43" height="39.33" fill="#faebdd"/><rect x="395.47" y="1120.59" width="49.43" height="39.33" fill="#03051a"/><rect x="443.6" y="1120.59" width="49.43" height="39.33" fill="#03051a"/><rect x="491.73" y="1120.59" width="49.43" height="39.33" fill="#03051a"/><rect x="539.87" y="1120.59" width="50.13" height="39.33" fill="#03051a"/><rect x="152.8" y="1158.62" width="51.43" height="39.33" fill="#03051a"/><rect x="202.93" y="1158.62" width="49.43" height="39.33" fill="#03051a"/><rect x="251.07" y="1158.62" width="49.43" height="39.33" fill="#03051a"/><rect x="299.2" y="1158.62" width="49.43" height="39.33" fill="#03051a"/><rect x="347.33" y="1158.62" width="49.43" height="39.33" fill="#03051a"/><rect x="395.47" y="1158.62" width="49.43" height="39.33" fill="#03051a"/><rect x="443.6" y="1158.62" width="49.43" height="39.33" fill="#03051a"/><rect x="491.73" y="1158.62" width="49.43" height="39.33" fill="#03051a"/><rect x="539.87" y="1158.62" width="50.13" height="39.33" fill="#03051a"/><rect x="152.8" y="1196.66" width="51.43" height="39.33" fill="#03051a"/><rect x="202.93" y="1196.66" width="49.43" height="39.33" fill="#03051a"/><rect x="251.07" y="1196.66" width="49.43" height="39.33" fill="#03051a"/><rect x="299.2" y="1196.66" width="49.43" height="39.33" fill="#03051a"/><rect x="347.33" y="1196.66" width="49.43" height="39.33" fill="#03051a"/><rect x="395.47" y="1196.66" width="49.43" height="39.33" fill="#faebdd"/><rect x="443.6" y="1196.66" width="49.43" height="39.33" fill="#03051a"/><rect x="491.73" y="1196.66" width="49.43" height="39.33" fill="#03051a"/><rect x="539.87" y="1196.66" width="50.13" height="39.33" fill="#03051a"/><rect x="152.8" y="1234.69" width="51.43" height="39.33" fill="#03051a"/><rect x="202.93" y="1234.69" width="49.43" height="39.33" fill="#03051a"/><rect x="251.07" y="1234.69" width="49.43" height="39.33" fill="#03051a"/><rect x="299.2" y="1234.69" width="49.43" height="39.33" fill="#03051a"/><rect x="347.33" y="1234.69" width="49.43" height="39.33" fill="#03051a"/><rect x="395.47" y="1234.69" width="49.43" height="39.33" fill="#faebdd"/><rect x="443.6" y="1234.69" width="49.43" height="39.33" fill="#faebdd"/><rect x="491.73" y="1234.69" width="49.43" height="39.33" fill="#faebdd"/><rect x="539.87" y="1234.69" width="50.13" height="39.33" fill="#03051a"/><rect x="152.8" y="1272.72" width="51.43" height="39.33" fill="#03051a"/><rect x="202.93" y="1272.72" width="49.43" height="39.33" fill="#03051a"/><rect x="251.07" y="1272.72" width="49.43" height="39.33" fill="#03051a"/><rect x="299.2" y="1272.72" width="49.43" height="39.33" fill="#03051a"/><rect x="347.33" y="1272.72" width="49.43" height="39.33" fill="#03051a"/><rect x="395.47" y="1272.72" width="49.43" height="39.33" fill="#03051a"/><rect x="443.6" y="1272.72" width="49.43" height="39.33" fill="#faebdd"/><rect x="491.73" y="1272.72" width="49.43" height="39.33" fill="#faebdd"/><rect x="539.87" y="1272.72" width="50.13" height="39.33" fill="#03051a"/><rect x="152.8" y="1310.75" width="51.43" height="39.33" fill="#03051a"/><rect x="202.93" y="1310.75" width="49.43" height="39.33" fill="#03051a"/><rect x="251.07" y="1310.75" width="49.43" height="39.33" fill="#03051a"/><rect x="299.2" y="1310.75" width="49.43" height="39.33" fill="#03051a"/><rect x="347.33" y="1310.75" width="49.43" height="39.33" fill="#faebdd"/><rect x="395.47" y="1310.75" width="49.43" height="39.33" fill="#03051a"/><rect x="443.6" y="1310.75" width="49.43" height="39.33" fill="#faebdd"/><rect x="491.73" y="1310.75" width="49.43" height="39.33" fill="#03051a"/><rect x="539.87" y="1310.75" width="50.13" height="39.33" fill="#03051a"/><rect x="152.8" y="1348.78" width="51.43" height="39.33" fill="#03051a"/><rect x="202.93" y="1348.78" width="49.43" height="39.33" fill="#03051a"/><rect x="251.07" y="1348.78" width="49.43" height="39.33" fill="#03051a"/><rect x="299.2" y="1348.78" width="49.43" height="39.33" fill="#03051a"/><rect x="347.33" y="1348.78" width="49.43" height="39.33" fill="#faebdd"/><rect x="395.47" y="1348.78" width="49.43" height="39.33" fill="#03051a"/><rect x="443.6" y="1348.78" width="49.43" height="39.33" fill="#faebdd"/><rect x="491.73" y="1348.78" width="49.43" height="39.33" fill="#03051a"/><rect x="539.87" y="1348.78" width="50.13" height="39.33" fill="#03051a"/><rect x="152.8" y="1386.81" width="51.43" height="39.33" fill="#03051a"/><rect x="202.93" y="1386.81" width="49.43" height="39.33" fill="#03051a"/><rect x="251.07" y="1386.81" width="49.43" height="39.33" fill="#03051a"/><rect x="299.2" y="1386.81" width="49.43" height="39.33" fill="#03051a"/><rect x="347.33" y="1386.81" width="49.43" height="39.33" fill="#faebdd"/><rect x="395.47" y="1386.81" width="49.43" height="39.33" fill="#03051a"/><rect x="443.6" y="1386.81" width="49.43" height="39.33" fill="#03051a"/><rect x="491.73" y="1386.81" width="49.43" height="39.33" fill="#03051a"/><rect x="539.87" y="1386.81" width="50.13" height="39.33" fill="#03051a"/><rect x="152.8" y="1424.84" width="51.43" height="39.33" fill="#03051a"/><rect x="202.93" y="1424.84" width="49.43" height="39.33" fill="#03051a"/><rect x="251.07" y="1424.84" width="49.43" height="39.33" fill="#03051a"/><rect x="299.2" y="1424.84" width="49.43" height="39.33" fill="#03051a"/><rect x="347.33" y="1424.84" width="49.43" height="39.33" fill="#faebdd"/><rect x="395.47" y="1424.84" width="49.43" height="39.33" fill="#03051a"/><rect x="443.6" y="1424.84" width="49.43" height="39.33" fill="#03051a"/><rect x="491.73" y="1424.84" width="49.43" height="39.33" fill="#03051a"/><rect x="539.87" y="1424.84" width="50.13" height="39.33" fill="#03051a"/><rect x="152.8" y="1462.88" width="51.43" height="39.33" fill="#03051a"/><rect x="202.93" y="1462.88" width="49.43" height="39.33" fill="#03051a"/><rect x="251.07" y="1462.88" width="49.43" height="39.33" fill="#03051a"/><rect x="299.2" y="1462.88" width="49.43" height="39.33" fill="#03051a"/><rect x="347.33" y="1462.88" width="49.43" height="39.33" fill="#03051a"/><rect x="395.47" y="1462.88" width="49.43" height="39.33" fill="#03051a"/><rect x="443.6" y="1462.88" width="49.43" height="39.33" fill="#03051a"/><rect x="491.73" y="1462.88" width="49.43" height="39.33" fill="#03051a"/><rect x="539.87" y="1462.88" width="50.13" height="39.33" fill="#03051a"/><rect x="152.8" y="1500.91" width="51.43" height="39.33" fill="#03051a"/><rect x="202.93" y="1500.91" width="49.43" height="39.33" fill="#03051a"/><rect x="251.07" y="1500.91" width="49.43" height="39.33" fill="#03051a"/><rect x="299.2" y="1500.91" width="49.43" height="39.33" fill="#03051a"/><rect x="347.33" y="1500.91" width="49.43" height="39.33" fill="#03051a"/><rect x="395.47" y="1500.91" width="49.43" height="39.33" fill="#03051a"/><rect x="443.6" y="1500.91" width="49.43" height="39.33" fill="#03051a"/><rect x="491.73" y="1500.91" width="49.43" height="39.33" fill="#03051a"/><rect x="539.87" y="1500.91" width="50.13" height="39.33" fill="#03051a"/><rect x="152.8" y="1538.94" width="51.43" height="39.33" fill="#03051a"/><rect x="202.93" y="1538.94" width="49.43" height="39.33" fill="#03051a"/><rect x="251.07" y="1538.94" width="49.43" height="39.33" fill="#03051a"/><rect x="299.2" y="1538.94" width="49.43" height="39.33" fill="#03051a"/><rect x="347.33" y="1538.94" width="49.43" height="39.33" fill="#03051a"/><rect x="395.47" y="1538.94" width="49.43" height="39.33" fill="#03051a"/><rect x="443.6" y="1538.94" width="49.43" height="39.33" fill="#03051a"/><rect x="491.73" y="1538.94" width="49.43" height="39.33" fill="#03051a"/><rect x="539.87" y="1538.94" width="50.13" height="39.33" fill="#03051a"/><rect x="152.8" y="1576.97" width="51.43" height="40.03" fill="#03051a"/><rect x="202.93" y="1576.97" width="49.43" height="40.03" fill="#03051a"/><rect x="251.07" y="1576.97" width="49.43" height="40.03" fill="#03051a"/><rect x="299.2" y="1576.97" width="49.43" height="40.03" fill="#03051a"/><rect x="347.33" y="1576.97" width="49.43" height="40.03" fill="#03051a"/><rect x="395.47" y="1576.97" width="49.43" height="40.03" fill="#03051a"/><rect x="443.6" y="1576.97" width="49.43" height="40.03" fill="#03051a"/><rect x="491.73" y="1576.97" width="49.43" height="40.03" fill="#03051a"/><rect x="539.87" y="1576.97" width="50.13" height="40.03" fill="#03051a"/><path d="M150.8 1002.5H592V1619H150.8ZM154.8 1006.5V1615H588V1006.5Z" fill="#fff" fill-rule="evenodd"/><rect x="615.6" y="1005.9" width="30.4" height="609.1" fill="url(#gb1)"/><path d="M136.89 1025.52H154.8M136.89 1063.55H154.8M136.89 1101.58H154.8M136.89 1139.61H154.8M136.89 1177.64H154.8M136.89 1215.67H154.8M136.89 1253.7H154.8M136.89 1291.73H154.8M136.89 1329.77H154.8M136.89 1367.8H154.8M136.89 1405.83H154.8M136.89 1443.86H154.8M136.89 1481.89H154.8M136.89 1519.92H154.8M136.89 1557.95H154.8M136.89 1595.98H154.8M178.87 1615V1632.91M227 1615V1632.91M275.13 1615V1632.91M323.27 1615V1632.91M371.4 1615V1632.91M419.53 1615V1632.91M467.67 1615V1632.91M515.8 1615V1632.91M563.93 1615V1632.91M646 1615H663.91M646 1493.18H663.91M646 1371.36H663.91M646 1249.54H663.91M646 1127.72H663.91M646 1005.9H663.91" stroke="#262626" stroke-width="3.58" fill="none"/><g font-family="'DejaVu Sans', sans-serif" font-size="32.84" fill="#262626" stroke="#262626" stroke-width="0.35" text-anchor="middle"><text transform="translate(117.47 1013.14) rotate(-90)" text-anchor="end">C</text><text transform="translate(117.47 1051.17) rotate(-90)" text-anchor="end">A</text><text transform="translate(117.47 1089.2) rotate(-90)" text-anchor="end">S</text><text transform="translate(117.47 1127.23) rotate(-90)" text-anchor="end">R</text><text transform="translate(117.47 1165.26) rotate(-90)" text-anchor="end">P</text><text transform="translate(117.47 1203.29) rotate(-90)" text-anchor="end">G</text><text transform="translate(117.47 1241.33) rotate(-90)" text-anchor="end">L</text><text transform="translate(117.47 1279.36) rotate(-90)" text-anchor="end">A</text><text transform="translate(117.47 1317.39) rotate(-90)" text-anchor="end">G</text><text transform="translate(117.47 1355.42) rotate(-90)" text-anchor="end">G</text><text transform="translate(117.47 1393.45) rotate(-90)" text-anchor="end">R</text><text transform="translate(117.47 1431.48) rotate(-90)" text-anchor="end">P</text><text transform="translate(117.47 1469.51) rotate(-90)" text-anchor="end">E</text><text transform="translate(117.47 1507.54) rotate(-90)" text-anchor="end">Q</text><text transform="translate(117.47 1545.58) rotate(-90)" text-anchor="end">Y</text><text transform="translate(117.47 1583.61) rotate(-90)" text-anchor="end">F</text><text x="178.87" y="1670.28">L</text><text x="227" y="1670.28">L</text><text x="275.13" y="1670.28">F</text><text x="323.27" y="1670.28">G</text><text x="371.4" y="1670.28">Y</text><text x="419.53" y="1670.28">P</text><text x="467.67" y="1670.28">V</text><text x="515.8" y="1670.28">Y</text><text x="563.93" y="1670.28">V</text></g><g font-family="'DejaVu Sans', sans-serif" font-size="32.84" fill="#262626" stroke="#262626" stroke-width="0.35"><text x="676.65" y="1626.98">0.0</text><text x="676.65" y="1505.16">0.2</text><text x="676.65" y="1383.34">0.4</text><text x="676.65" y="1261.52">0.6</text><text x="676.65" y="1139.7">0.8</text><text x="676.65" y="1017.88">1.0</text></g><g font-family="'DejaVu Sans', sans-serif" font-size="35.82" fill="#262626" stroke="#262626" stroke-width="0.35" text-anchor="middle"><text x="371.4" y="1719.67">Epitope sequence</text><text transform="translate(70.03 1311.15) rotate(-90)" font-size="35.64">CDR3 sequence</text></g><g font-family="'Liberation Sans', sans-serif" font-size="37.6" fill="#262626" stroke="#262626" stroke-width="0.3" style="font-kerning:none"><text x="187.7" y="938" font-size="37.58">True contact pairs of</text><text x="111.4" y="986">A6 TCR CDR3<tspan x="358.2" y="981.4" font-family="'Liberation Serif', serif" font-style="italic" stroke="none" font-size="37.6" textLength="20.6" lengthAdjust="spacingAndGlyphs">β</tspan><tspan x="377.22" y="986" font-size="37.7"> and Tax epitope</tspan></text></g></g>
<g id="pb2"><rect x="955.3" y="1003.5" width="52.49" height="42.11" fill="#03051a"/><rect x="1006.49" y="1003.5" width="50.49" height="42.11" fill="#03051a"/><rect x="1055.68" y="1003.5" width="50.49" height="42.11" fill="#03051a"/><rect x="1104.87" y="1003.5" width="50.49" height="42.11" fill="#03051a"/><rect x="1154.06" y="1003.5" width="50.49" height="42.11" fill="#03051a"/><rect x="1203.24" y="1003.5" width="50.49" height="42.11" fill="#03051a"/><rect x="1252.43" y="1003.5" width="50.49" height="42.11" fill="#03051a"/><rect x="1301.62" y="1003.5" width="50.49" height="42.11" fill="#03051a"/><rect x="1350.81" y="1003.5" width="51.19" height="42.11" fill="#03051a"/><rect x="955.3" y="1044.31" width="52.49" height="40.11" fill="#03051a"/><rect x="1006.49" y="1044.31" width="50.49" height="40.11" fill="#03051a"/><rect x="1055.68" y="1044.31" width="50.49" height="40.11" fill="#03051a"/><rect x="1104.87" y="1044.31" width="50.49" height="40.11" fill="#03051a"/><rect x="1154.06" y="1044.31" width="50.49" height="40.11" fill="#03051a"/><rect x="1203.24" y="1044.31" width="50.49" height="40.11" fill="#03051a"/><rect x="1252.43" y="1044.31" width="50.49" height="40.11" fill="#03051a"/><rect x="1301.62" y="1044.31" width="50.49" height="40.11" fill="#03051a"/><rect x="1350.81" y="1044.31" width="51.19" height="40.11" fill="#03051a"/><rect x="955.3" y="1083.11" width="52.49" height="40.11" fill="#03051a"/><rect x="1006.49" y="1083.11" width="50.49" height="40.11" fill="#03051a"/><rect x="1055.68" y="1083.11" width="50.49" height="40.11" fill="#03051a"/><rect x="1104.87" y="1083.11" width="50.49" height="40.11" fill="#03051a"/><rect x="1154.06" y="1083.11" width="50.49" height="40.11" fill="#03051a"/><rect x="1203.24" y="1083.11" width="50.49" height="40.11" fill="#03051a"/><rect x="1252.43" y="1083.11" width="50.49" height="40.11" fill="#03051a"/><rect x="1301.62" y="1083.11" width="50.49" height="40.11" fill="#03051a"/><rect x="1350.81" y="1083.11" width="51.19" height="40.11" fill="#03051a"/><rect x="955.3" y="1121.92" width="52.49" height="40.11" fill="#03051a"/><rect x="1006.49" y="1121.92" width="50.49" height="40.11" fill="#03051a"/><rect x="1055.68" y="1121.92" width="50.49" height="40.11" fill="#03051a"/><rect x="1104.87" y="1121.92" width="50.49" height="40.11" fill="#0b0920"/><rect x="1154.06" y="1121.92" width="50.49" height="40.11" fill="#d5224a"/><rect x="1203.24" y="1121.92" width="50.49" height="40.11" fill="#03051a"/><rect x="1252.43" y="1121.92" width="50.49" height="40.11" fill="#03051a"/><rect x="1301.62" y="1121.92" width="50.49" height="40.11" fill="#05061b"/><rect x="1350.81" y="1121.92" width="51.19" height="40.11" fill="#03051a"/><rect x="955.3" y="1160.72" width="52.49" height="40.11" fill="#03051a"/><rect x="1006.49" y="1160.72" width="50.49" height="40.11" fill="#03051a"/><rect x="1055.68" y="1160.72" width="50.49" height="40.11" fill="#03051a"/><rect x="1104.87" y="1160.72" width="50.49" height="40.11" fill="#03051a"/><rect x="1154.06" y="1160.72" width="50.49" height="40.11" fill="#34193d"/><rect x="1203.24" y="1160.72" width="50.49" height="40.11" fill="#170f28"/><rect x="1252.43" y="1160.72" width="50.49" height="40.11" fill="#170f28"/><rect x="1301.62" y="1160.72" width="50.49" height="40.11" fill="#221331"/><rect x="1350.81" y="1160.72" width="51.19" height="40.11" fill="#03051a"/><rect x="955.3" y="1199.53" width="52.49" height="40.11" fill="#03051a"/><rect x="1006.49" y="1199.53" width="50.49" height="40.11" fill="#03051a"/><rect x="1055.68" y="1199.53" width="50.49" height="40.11" fill="#03051a"/><rect x="1104.87" y="1199.53" width="50.49" height="40.11" fill="#130d25"/><rect x="1154.06" y="1199.53" width="50.49" height="40.11" fill="#2d1738"/><rect x="1203.24" y="1199.53" width="50.49" height="40.11" fill="#a4195b"/><rect x="1252.43" y="1199.53" width="50.49" height="40.11" fill="#381a40"/><rect x="1301.62" y="1199.53" width="50.49" height="40.11" fill="#221331"/><rect x="1350.81" y="1199.53" width="51.19" height="40.11" fill="#03051a"/><rect x="955.3" y="1238.34" width="52.49" height="40.11" fill="#03051a"/><rect x="1006.49" y="1238.34" width="50.49" height="40.11" fill="#03051a"/><rect x="1055.68" y="1238.34" width="50.49" height="40.11" fill="#170f28"/><rect x="1104.87" y="1238.34" width="50.49" height="40.11" fill="#1a102a"/><rect x="1154.06" y="1238.34" width="50.49" height="40.11" fill="#6d1f56"/><rect x="1203.24" y="1238.34" width="50.49" height="40.11" fill="#f6b691"/><rect x="1252.43" y="1238.34" width="50.49" height="40.11" fill="#faebdd"/><rect x="1301.62" y="1238.34" width="50.49" height="40.11" fill="#f8dcc7"/><rect x="1350.81" y="1238.34" width="51.19" height="40.11" fill="#130d25"/><rect x="955.3" y="1277.14" width="52.49" height="40.11" fill="#03051a"/><rect x="1006.49" y="1277.14" width="50.49" height="40.11" fill="#03051a"/><rect x="1055.68" y="1277.14" width="50.49" height="40.11" fill="#03051a"/><rect x="1104.87" y="1277.14" width="50.49" height="40.11" fill="#03051a"/><rect x="1154.06" y="1277.14" width="50.49" height="40.11" fill="#1a102a"/><rect x="1203.24" y="1277.14" width="50.49" height="40.11" fill="#4c1d4b"/><rect x="1252.43" y="1277.14" width="50.49" height="40.11" fill="#f59269"/><rect x="1301.62" y="1277.14" width="50.49" height="40.11" fill="#e43841"/><rect x="1350.81" y="1277.14" width="51.19" height="40.11" fill="#06071c"/><rect x="955.3" y="1315.95" width="52.49" height="40.11" fill="#03051a"/><rect x="1006.49" y="1315.95" width="50.49" height="40.11" fill="#03051a"/><rect x="1055.68" y="1315.95" width="50.49" height="40.11" fill="#03051a"/><rect x="1104.87" y="1315.95" width="50.49" height="40.11" fill="#08081e"/><rect x="1154.06" y="1315.95" width="50.49" height="40.11" fill="#821e5a"/><rect x="1203.24" y="1315.95" width="50.49" height="40.11" fill="#3c1a42"/><rect x="1252.43" y="1315.95" width="50.49" height="40.11" fill="#f7c6a6"/><rect x="1301.62" y="1315.95" width="50.49" height="40.11" fill="#3c1a42"/><rect x="1350.81" y="1315.95" width="51.19" height="40.11" fill="#06071c"/><rect x="955.3" y="1354.76" width="52.49" height="40.11" fill="#03051a"/><rect x="1006.49" y="1354.76" width="50.49" height="40.11" fill="#03051a"/><rect x="1055.68" y="1354.76" width="50.49" height="40.11" fill="#03051a"/><rect x="1104.87" y="1354.76" width="50.49" height="40.11" fill="#05061b"/><rect x="1154.06" y="1354.76" width="50.49" height="40.11" fill="#b91657"/><rect x="1203.24" y="1354.76" width="50.49" height="40.11" fill="#1a102a"/><rect x="1252.43" y="1354.76" width="50.49" height="40.11" fill="#f37852"/><rect x="1301.62" y="1354.76" width="50.49" height="40.11" fill="#170f28"/><rect x="1350.81" y="1354.76" width="51.19" height="40.11" fill="#03051a"/><rect x="955.3" y="1393.56" width="52.49" height="40.11" fill="#03051a"/><rect x="1006.49" y="1393.56" width="50.49" height="40.11" fill="#03051a"/><rect x="1055.68" y="1393.56" width="50.49" height="40.11" fill="#03051a"/><rect x="1104.87" y="1393.56" width="50.49" height="40.11" fill="#03051a"/><rect x="1154.06" y="1393.56" width="50.49" height="40.11" fill="#841e5a"/><rect x="1203.24" y="1393.56" width="50.49" height="40.11" fill="#04051a"/><rect x="1252.43" y="1393.56" width="50.49" height="40.11" fill="#34193d"/><rect x="1301.62" y="1393.56" width="50.49" height="40.11" fill="#03051a"/><rect x="1350.81" y="1393.56" width="51.19" height="40.11" fill="#03051a"/><rect x="955.3" y="1432.37" width="52.49" height="40.11" fill="#03051a"/><rect x="1006.49" y="1432.37" width="50.49" height="40.11" fill="#03051a"/><rect x="1055.68" y="1432.37" width="50.49" height="40.11" fill="#08081e"/><rect x="1104.87" y="1432.37" width="50.49" height="40.11" fill="#100b23"/><rect x="1154.06" y="1432.37" width="50.49" height="40.11" fill="#f9e0cd"/><rect x="1203.24" y="1432.37" width="50.49" height="40.11" fill="#05061b"/><rect x="1252.43" y="1432.37" width="50.49" height="40.11" fill="#2a1636"/><rect x="1301.62" y="1432.37" width="50.49" height="40.11" fill="#03051a"/><rect x="1350.81" y="1432.37" width="51.19" height="40.11" fill="#03051a"/><rect x="955.3" y="1471.18" width="52.49" height="40.11" fill="#03051a"/><rect x="1006.49" y="1471.18" width="50.49" height="40.11" fill="#03051a"/><rect x="1055.68" y="1471.18" width="50.49" height="40.11" fill="#03051a"/><rect x="1104.87" y="1471.18" width="50.49" height="40.11" fill="#03051a"/><rect x="1154.06" y="1471.18" width="50.49" height="40.11" fill="#221331"/><rect x="1203.24" y="1471.18" width="50.49" height="40.11" fill="#03051a"/><rect x="1252.43" y="1471.18" width="50.49" height="40.11" fill="#03051a"/><rect x="1301.62" y="1471.18" width="50.49" height="40.11" fill="#03051a"/><rect x="1350.81" y="1471.18" width="51.19" height="40.11" fill="#03051a"/><rect x="955.3" y="1509.98" width="52.49" height="40.11" fill="#03051a"/><rect x="1006.49" y="1509.98" width="50.49" height="40.11" fill="#03051a"/><rect x="1055.68" y="1509.98" width="50.49" height="40.11" fill="#03051a"/><rect x="1104.87" y="1509.98" width="50.49" height="40.11" fill="#03051a"/><rect x="1154.06" y="1509.98" width="50.49" height="40.11" fill="#03051a"/><rect x="1203.24" y="1509.98" width="50.49" height="40.11" fill="#03051a"/><rect x="1252.43" y="1509.98" width="50.49" height="40.11" fill="#03051a"/><rect x="1301.62" y="1509.98" width="50.49" height="40.11" fill="#03051a"/><rect x="1350.81" y="1509.98" width="51.19" height="40.11" fill="#03051a"/><rect x="955.3" y="1548.79" width="52.49" height="40.11" fill="#03051a"/><rect x="1006.49" y="1548.79" width="50.49" height="40.11" fill="#03051a"/><rect x="1055.68" y="1548.79" width="50.49" height="40.11" fill="#03051a"/><rect x="1104.87" y="1548.79" width="50.49" height="40.11" fill="#03051a"/><rect x="1154.06" y="1548.79" width="50.49" height="40.11" fill="#03051a"/><rect x="1203.24" y="1548.79" width="50.49" height="40.11" fill="#03051a"/><rect x="1252.43" y="1548.79" width="50.49" height="40.11" fill="#03051a"/><rect x="1301.62" y="1548.79" width="50.49" height="40.11" fill="#03051a"/><rect x="1350.81" y="1548.79" width="51.19" height="40.11" fill="#03051a"/><rect x="955.3" y="1587.59" width="52.49" height="40.81" fill="#03051a"/><rect x="1006.49" y="1587.59" width="50.49" height="40.81" fill="#03051a"/><rect x="1055.68" y="1587.59" width="50.49" height="40.81" fill="#03051a"/><rect x="1104.87" y="1587.59" width="50.49" height="40.81" fill="#03051a"/><rect x="1154.06" y="1587.59" width="50.49" height="40.81" fill="#03051a"/><rect x="1203.24" y="1587.59" width="50.49" height="40.81" fill="#03051a"/><rect x="1252.43" y="1587.59" width="50.49" height="40.81" fill="#03051a"/><rect x="1301.62" y="1587.59" width="50.49" height="40.81" fill="#03051a"/><rect x="1350.81" y="1587.59" width="51.19" height="40.81" fill="#03051a"/><path d="M953.3 1001.5H1404V1630.4H953.3ZM957.3 1005.5V1626.4H1400V1005.5Z" fill="#fff" fill-rule="evenodd"/><rect x="1427.3" y="1005.3" width="31.5" height="619.55" fill="url(#gb2)"/><path d="M939.03 1024.9H957.3M939.03 1063.71H957.3M939.03 1102.52H957.3M939.03 1141.32H957.3M939.03 1180.13H957.3M939.03 1218.93H957.3M939.03 1257.74H957.3M939.03 1296.55H957.3M939.03 1335.35H957.3M939.03 1374.16H957.3M939.03 1412.97H957.3M939.03 1451.77H957.3M939.03 1490.58H957.3M939.03 1529.38H957.3M939.03 1568.19H957.3M939.03 1607H957.3M981.89 1626.4V1644.67M1031.08 1626.4V1644.67M1080.27 1626.4V1644.67M1129.46 1626.4V1644.67M1178.65 1626.4V1644.67M1227.84 1626.4V1644.67M1277.03 1626.4V1644.67M1326.22 1626.4V1644.67M1375.41 1626.4V1644.67M1458.8 1556.89H1477.07M1458.8 1487.33H1477.07M1458.8 1417.78H1477.07M1458.8 1348.22H1477.07M1458.8 1278.66H1477.07M1458.8 1209.1H1477.07M1458.8 1139.55H1477.07M1458.8 1069.99H1477.07" stroke="#262626" stroke-width="3.65" fill="none"/><g font-family="'DejaVu Sans', sans-serif" font-size="33.49" fill="#262626" stroke="#262626" stroke-width="0.35" text-anchor="middle"><text transform="translate(919.22 1012.28) rotate(-90)" text-anchor="end">C</text><text transform="translate(919.22 1051.08) rotate(-90)" text-anchor="end">A</text><text transform="translate(919.22 1089.89) rotate(-90)" text-anchor="end">S</text><text transform="translate(919.22 1128.7) rotate(-90)" text-anchor="end">R</text><text transform="translate(919.22 1167.5) rotate(-90)" text-anchor="end">P</text><text transform="translate(919.22 1206.31) rotate(-90)" text-anchor="end">G</text><text transform="translate(919.22 1245.11) rotate(-90)" text-anchor="end">L</text><text transform="translate(919.22 1283.92) rotate(-90)" text-anchor="end">A</text><text transform="translate(919.22 1322.73) rotate(-90)" text-anchor="end">G</text><text transform="translate(919.22 1361.53) rotate(-90)" text-anchor="end">G</text><text transform="translate(919.22 1400.34) rotate(-90)" text-anchor="end">R</text><text transform="translate(919.22 1439.15) rotate(-90)" text-anchor="end">P</text><text transform="translate(919.22 1477.95) rotate(-90)" text-anchor="end">E</text><text transform="translate(919.22 1516.76) rotate(-90)" text-anchor="end">Q</text><text transform="translate(919.22 1555.56) rotate(-90)" text-anchor="end">Y</text><text transform="translate(919.22 1594.37) rotate(-90)" text-anchor="end">F</text><text x="981.89" y="1682.79">L</text><text x="1031.08" y="1682.79">L</text><text x="1080.27" y="1682.79">F</text><text x="1129.46" y="1682.79">G</text><text x="1178.65" y="1682.79">Y</text><text x="1227.84" y="1682.79">P</text><text x="1277.03" y="1682.79">V</text><text x="1326.22" y="1682.79">Y</text><text x="1375.41" y="1682.79">V</text></g><g font-family="'DejaVu Sans', sans-serif" font-size="33.49" fill="#262626" stroke="#262626" stroke-width="0.35"><text x="1490.06" y="1569.62">0.1</text><text x="1490.06" y="1500.06">0.2</text><text x="1490.06" y="1430.5">0.3</text><text x="1490.06" y="1360.94">0.4</text><text x="1490.06" y="1291.39">0.5</text><text x="1490.06" y="1221.83">0.6</text><text x="1490.06" y="1152.27">0.7</text><text x="1490.06" y="1082.71">0.8</text></g><g font-family="'DejaVu Sans', sans-serif" font-size="36.54" fill="#262626" stroke="#262626" stroke-width="0.35" text-anchor="middle"><text x="1178.65" y="1733.18">Epitope sequence</text><text transform="translate(870.82 1316.36) rotate(-90)" font-size="36.36">CDR3 sequence</text></g><g font-family="'Liberation Sans', sans-serif" font-size="37.6" fill="#262626" stroke="#262626" stroke-width="0.3" style="font-kerning:none"><text x="965.5" y="938" font-size="37.45">Predicted contact scores of</text><text x="936.5" y="985">A6 TCR CDR3<tspan x="1183.3" y="980.4" font-family="'Liberation Serif', serif" font-style="italic" stroke="none" font-size="37.6" textLength="20.6" lengthAdjust="spacingAndGlyphs">β</tspan><tspan x="1203.2" y="985" font-size="37.4"> and Tax epitope</tspan></text></g></g>
<g id="pc"><rect x="151.9" y="1878" width="52.4" height="42.01" fill="#f8f4f5"/><rect x="203" y="1878" width="50.4" height="42.01" fill="#faf5f4"/><rect x="252.1" y="1878" width="50.4" height="42.01" fill="#dde0e7"/><rect x="301.2" y="1878" width="50.4" height="42.01" fill="#f1dddb"/><rect x="350.3" y="1878" width="50.4" height="42.01" fill="#efdad8"/><rect x="399.4" y="1878" width="50.4" height="42.01" fill="#f9eeed"/><rect x="448.5" y="1878" width="50.4" height="42.01" fill="#ecebef"/><rect x="497.6" y="1878" width="50.4" height="42.01" fill="#ecd2d0"/><rect x="546.7" y="1878" width="51.1" height="42.01" fill="#f8f4f5"/><rect x="151.9" y="1918.71" width="52.4" height="40.01" fill="#d7dae4"/><rect x="203" y="1918.71" width="50.4" height="40.01" fill="#f5f2f4"/><rect x="252.1" y="1918.71" width="50.4" height="40.01" fill="#cfd4e0"/><rect x="301.2" y="1918.71" width="50.4" height="40.01" fill="#faf3f3"/><rect x="350.3" y="1918.71" width="50.4" height="40.01" fill="#efeef1"/><rect x="399.4" y="1918.71" width="50.4" height="40.01" fill="#faf5f4"/><rect x="448.5" y="1918.71" width="50.4" height="40.01" fill="#e9e9ed"/><rect x="497.6" y="1918.71" width="50.4" height="40.01" fill="#f2e0df"/><rect x="546.7" y="1918.71" width="51.1" height="40.01" fill="#eacfcd"/><rect x="151.9" y="1957.42" width="52.4" height="40.01" fill="#f5f2f4"/><rect x="203" y="1957.42" width="50.4" height="40.01" fill="#faf5f5"/><rect x="252.1" y="1957.42" width="50.4" height="40.01" fill="#faf5f5"/><rect x="301.2" y="1957.42" width="50.4" height="40.01" fill="#f4e3e2"/><rect x="350.3" y="1957.42" width="50.4" height="40.01" fill="#faf5f5"/><rect x="399.4" y="1957.42" width="50.4" height="40.01" fill="#faf3f3"/><rect x="448.5" y="1957.42" width="50.4" height="40.01" fill="#faf5f5"/><rect x="497.6" y="1957.42" width="50.4" height="40.01" fill="#dde0e7"/><rect x="546.7" y="1957.42" width="51.1" height="40.01" fill="#faf5f4"/><rect x="151.9" y="1996.14" width="52.4" height="40.01" fill="#f9f5f5"/><rect x="203" y="1996.14" width="50.4" height="40.01" fill="#faf5f5"/><rect x="252.1" y="1996.14" width="50.4" height="40.01" fill="#dde0e7"/><rect x="301.2" y="1996.14" width="50.4" height="40.01" fill="#efdad8"/><rect x="350.3" y="1996.14" width="50.4" height="40.01" fill="#c57572"/><rect x="399.4" y="1996.14" width="50.4" height="40.01" fill="#dadde5"/><rect x="448.5" y="1996.14" width="50.4" height="40.01" fill="#c8cfdd"/><rect x="497.6" y="1996.14" width="50.4" height="40.01" fill="#dde0e7"/><rect x="546.7" y="1996.14" width="51.1" height="40.01" fill="#faf5f4"/><rect x="151.9" y="2034.85" width="52.4" height="40.01" fill="#c5cddb"/><rect x="203" y="2034.85" width="50.4" height="40.01" fill="#dde0e7"/><rect x="252.1" y="2034.85" width="50.4" height="40.01" fill="#faf5f5"/><rect x="301.2" y="2034.85" width="50.4" height="40.01" fill="#c8cfdd"/><rect x="350.3" y="2034.85" width="50.4" height="40.01" fill="#ecebef"/><rect x="399.4" y="2034.85" width="50.4" height="40.01" fill="#e9e9ed"/><rect x="448.5" y="2034.85" width="50.4" height="40.01" fill="#f5f2f4"/><rect x="497.6" y="2034.85" width="50.4" height="40.01" fill="#f7ebea"/><rect x="546.7" y="2034.85" width="51.1" height="40.01" fill="#faf5f5"/><rect x="151.9" y="2073.56" width="52.4" height="40.01" fill="#b3bfd3"/><rect x="203" y="2073.56" width="50.4" height="40.01" fill="#bac4d6"/><rect x="252.1" y="2073.56" width="50.4" height="40.01" fill="#e4e5eb"/><rect x="301.2" y="2073.56" width="50.4" height="40.01" fill="#dde0e7"/><rect x="350.3" y="2073.56" width="50.4" height="40.01" fill="#dde0e7"/><rect x="399.4" y="2073.56" width="50.4" height="40.01" fill="#f4e3e2"/><rect x="448.5" y="2073.56" width="50.4" height="40.01" fill="#f5f2f4"/><rect x="497.6" y="2073.56" width="50.4" height="40.01" fill="#e4e5eb"/><rect x="546.7" y="2073.56" width="51.1" height="40.01" fill="#e4e5eb"/><rect x="151.9" y="2112.28" width="52.4" height="40.01" fill="#f2f0f2"/><rect x="203" y="2112.28" width="50.4" height="40.01" fill="#faf5f5"/><rect x="252.1" y="2112.28" width="50.4" height="40.01" fill="#f5f2f4"/><rect x="301.2" y="2112.28" width="50.4" height="40.01" fill="#faf5f4"/><rect x="350.3" y="2112.28" width="50.4" height="40.01" fill="#dde0e7"/><rect x="399.4" y="2112.28" width="50.4" height="40.01" fill="#f7ebea"/><rect x="448.5" y="2112.28" width="50.4" height="40.01" fill="#ecebef"/><rect x="497.6" y="2112.28" width="50.4" height="40.01" fill="#f9f5f5"/><rect x="546.7" y="2112.28" width="51.1" height="40.01" fill="#eacfcd"/><rect x="151.9" y="2150.99" width="52.4" height="40.01" fill="#ecebef"/><rect x="203" y="2150.99" width="50.4" height="40.01" fill="#f8f4f5"/><rect x="252.1" y="2150.99" width="50.4" height="40.01" fill="#e9cbc9"/><rect x="301.2" y="2150.99" width="50.4" height="40.01" fill="#faf5f5"/><rect x="350.3" y="2150.99" width="50.4" height="40.01" fill="#faf5f5"/><rect x="399.4" y="2150.99" width="50.4" height="40.01" fill="#f1dddb"/><rect x="448.5" y="2150.99" width="50.4" height="40.01" fill="#faf5f5"/><rect x="497.6" y="2150.99" width="50.4" height="40.01" fill="#ecebef"/><rect x="546.7" y="2150.99" width="51.1" height="40.01" fill="#faf5f5"/><rect x="151.9" y="2189.7" width="52.4" height="40.01" fill="#e4c0be"/><rect x="203" y="2189.7" width="50.4" height="40.01" fill="#ca817e"/><rect x="252.1" y="2189.7" width="50.4" height="40.01" fill="#d19290"/><rect x="301.2" y="2189.7" width="50.4" height="40.01" fill="#c57572"/><rect x="350.3" y="2189.7" width="50.4" height="40.01" fill="#daa9a7"/><rect x="399.4" y="2189.7" width="50.4" height="40.01" fill="#eacfcd"/><rect x="448.5" y="2189.7" width="50.4" height="40.01" fill="#f9f5f5"/><rect x="497.6" y="2189.7" width="50.4" height="40.01" fill="#dde0e7"/><rect x="546.7" y="2189.7" width="51.1" height="40.01" fill="#cfd4e0"/><rect x="151.9" y="2228.41" width="52.4" height="40.01" fill="#ddafad"/><rect x="203" y="2228.41" width="50.4" height="40.01" fill="#d8a3a0"/><rect x="252.1" y="2228.41" width="50.4" height="40.01" fill="#d59c99"/><rect x="301.2" y="2228.41" width="50.4" height="40.01" fill="#e4c0be"/><rect x="350.3" y="2228.41" width="50.4" height="40.01" fill="#e9cbc9"/><rect x="399.4" y="2228.41" width="50.4" height="40.01" fill="#f4e3e2"/><rect x="448.5" y="2228.41" width="50.4" height="40.01" fill="#f9eeed"/><rect x="497.6" y="2228.41" width="50.4" height="40.01" fill="#bdc6d7"/><rect x="546.7" y="2228.41" width="51.1" height="40.01" fill="#bdc6d7"/><rect x="151.9" y="2267.12" width="52.4" height="40.01" fill="#faf5f5"/><rect x="203" y="2267.12" width="50.4" height="40.01" fill="#f9eeed"/><rect x="252.1" y="2267.12" width="50.4" height="40.01" fill="#ecd2d0"/><rect x="301.2" y="2267.12" width="50.4" height="40.01" fill="#efdad8"/><rect x="350.3" y="2267.12" width="50.4" height="40.01" fill="#f6e8e7"/><rect x="399.4" y="2267.12" width="50.4" height="40.01" fill="#f4e3e2"/><rect x="448.5" y="2267.12" width="50.4" height="40.01" fill="#f4e3e2"/><rect x="497.6" y="2267.12" width="50.4" height="40.01" fill="#cd8885"/><rect x="546.7" y="2267.12" width="51.1" height="40.01" fill="#c06a68"/><rect x="151.9" y="2305.84" width="52.4" height="40.01" fill="#faf5f5"/><rect x="203" y="2305.84" width="50.4" height="40.01" fill="#cbd1de"/><rect x="252.1" y="2305.84" width="50.4" height="40.01" fill="#8fa5c7"/><rect x="301.2" y="2305.84" width="50.4" height="40.01" fill="#cfd4e0"/><rect x="350.3" y="2305.84" width="50.4" height="40.01" fill="#faf5f4"/><rect x="399.4" y="2305.84" width="50.4" height="40.01" fill="#b7c2d5"/><rect x="448.5" y="2305.84" width="50.4" height="40.01" fill="#afbcd1"/><rect x="497.6" y="2305.84" width="50.4" height="40.01" fill="#e1e2e9"/><rect x="546.7" y="2305.84" width="51.1" height="40.01" fill="#dde0e7"/><rect x="151.9" y="2344.55" width="52.4" height="40.01" fill="#faf5f5"/><rect x="203" y="2344.55" width="50.4" height="40.01" fill="#ecebef"/><rect x="252.1" y="2344.55" width="50.4" height="40.01" fill="#cfd4e0"/><rect x="301.2" y="2344.55" width="50.4" height="40.01" fill="#f5f2f4"/><rect x="350.3" y="2344.55" width="50.4" height="40.01" fill="#cfd4e0"/><rect x="399.4" y="2344.55" width="50.4" height="40.01" fill="#bac4d6"/><rect x="448.5" y="2344.55" width="50.4" height="40.01" fill="#bac4d6"/><rect x="497.6" y="2344.55" width="50.4" height="40.01" fill="#d7dae4"/><rect x="546.7" y="2344.55" width="51.1" height="40.01" fill="#d7dae4"/><rect x="151.9" y="2383.26" width="52.4" height="40.01" fill="#c5cddb"/><rect x="203" y="2383.26" width="50.4" height="40.01" fill="#c8cfdd"/><rect x="252.1" y="2383.26" width="50.4" height="40.01" fill="#bac4d6"/><rect x="301.2" y="2383.26" width="50.4" height="40.01" fill="#ecebef"/><rect x="350.3" y="2383.26" width="50.4" height="40.01" fill="#faf5f5"/><rect x="399.4" y="2383.26" width="50.4" height="40.01" fill="#dadde5"/><rect x="448.5" y="2383.26" width="50.4" height="40.01" fill="#bac4d6"/><rect x="497.6" y="2383.26" width="50.4" height="40.01" fill="#ecebef"/><rect x="546.7" y="2383.26" width="51.1" height="40.01" fill="#f5f2f4"/><rect x="151.9" y="2421.98" width="52.4" height="40.01" fill="#f9f5f5"/><rect x="203" y="2421.98" width="50.4" height="40.01" fill="#e9e9ed"/><rect x="252.1" y="2421.98" width="50.4" height="40.01" fill="#f5e5e4"/><rect x="301.2" y="2421.98" width="50.4" height="40.01" fill="#faf5f5"/><rect x="350.3" y="2421.98" width="50.4" height="40.01" fill="#cfd4e0"/><rect x="399.4" y="2421.98" width="50.4" height="40.01" fill="#f9efee"/><rect x="448.5" y="2421.98" width="50.4" height="40.01" fill="#e1e2e9"/><rect x="497.6" y="2421.98" width="50.4" height="40.01" fill="#c5cddb"/><rect x="546.7" y="2421.98" width="51.1" height="40.01" fill="#dde0e7"/><rect x="151.9" y="2460.69" width="52.4" height="40.71" fill="#e1e2e9"/><rect x="203" y="2460.69" width="50.4" height="40.71" fill="#bac4d6"/><rect x="252.1" y="2460.69" width="50.4" height="40.71" fill="#92a7c8"/><rect x="301.2" y="2460.69" width="50.4" height="40.71" fill="#e1e2e9"/><rect x="350.3" y="2460.69" width="50.4" height="40.71" fill="#ecd2d0"/><rect x="399.4" y="2460.69" width="50.4" height="40.71" fill="#d7dae4"/><rect x="448.5" y="2460.69" width="50.4" height="40.71" fill="#c8cfdd"/><rect x="497.6" y="2460.69" width="50.4" height="40.71" fill="#faf5f5"/><rect x="546.7" y="2460.69" width="51.1" height="40.71" fill="#dde0e7"/><path d="M149.9 1876H599.8V2503.4H149.9ZM153.9 1880V2499.4H595.8V1880Z" fill="#fff" fill-rule="evenodd"/><rect x="623.5" y="1878.4" width="31.4" height="620.4" fill="url(#gc)"/><path d="M135.66 1899.36H153.9M135.66 1938.07H153.9M135.66 1976.78H153.9M135.66 2015.49H153.9M135.66 2054.21H153.9M135.66 2092.92H153.9M135.66 2131.63H153.9M135.66 2170.34H153.9M135.66 2209.06H153.9M135.66 2247.77H153.9M135.66 2286.48H153.9M135.66 2325.19H153.9M135.66 2363.91H153.9M135.66 2402.62H153.9M135.66 2441.33H153.9M135.66 2480.04H153.9M178.45 2499.4V2517.64M227.55 2499.4V2517.64M276.65 2499.4V2517.64M325.75 2499.4V2517.64M374.85 2499.4V2517.64M423.95 2499.4V2517.64M473.05 2499.4V2517.64M522.15 2499.4V2517.64M571.25 2499.4V2517.64M654.9 2403.6H673.14M654.9 2296.64H673.14M654.9 2189.67H673.14M654.9 2082.7H673.14M654.9 1975.74H673.14" stroke="#262626" stroke-width="3.65" fill="none"/><g font-family="'DejaVu Sans', sans-serif" font-size="33.45" fill="#262626" stroke="#262626" stroke-width="0.35" text-anchor="middle"><text transform="translate(115.87 1886.75) rotate(-90)" text-anchor="end">C</text><text transform="translate(115.87 1925.46) rotate(-90)" text-anchor="end">A</text><text transform="translate(115.87 1964.17) rotate(-90)" text-anchor="end">S</text><text transform="translate(115.87 2002.89) rotate(-90)" text-anchor="end">R</text><text transform="translate(115.87 2041.6) rotate(-90)" text-anchor="end">P</text><text transform="translate(115.87 2080.31) rotate(-90)" text-anchor="end">G</text><text transform="translate(115.87 2119.02) rotate(-90)" text-anchor="end">L</text><text transform="translate(115.87 2157.74) rotate(-90)" text-anchor="end">A</text><text transform="translate(115.87 2196.45) rotate(-90)" text-anchor="end">G</text><text transform="translate(115.87 2235.16) rotate(-90)" text-anchor="end">G</text><text transform="translate(115.87 2273.87) rotate(-90)" text-anchor="end">R</text><text transform="translate(115.87 2312.59) rotate(-90)" text-anchor="end">P</text><text transform="translate(115.87 2351.3) rotate(-90)" text-anchor="end">E</text><text transform="translate(115.87 2390.01) rotate(-90)" text-anchor="end">Q</text><text transform="translate(115.87 2428.72) rotate(-90)" text-anchor="end">Y</text><text transform="translate(115.87 2467.44) rotate(-90)" text-anchor="end">F</text><text x="178.45" y="2555.71">L</text><text x="227.55" y="2555.71">L</text><text x="276.65" y="2555.71">F</text><text x="325.75" y="2555.71">G</text><text x="374.85" y="2555.71">Y</text><text x="423.95" y="2555.71">P</text><text x="473.05" y="2555.71">V</text><text x="522.15" y="2555.71">Y</text><text x="571.25" y="2555.71">V</text></g><g font-family="'DejaVu Sans', sans-serif" font-size="33.45" fill="#262626" stroke="#262626" stroke-width="0.35"><text x="686.12" y="2416.51">−2</text><text x="686.12" y="2309.54">−1</text><text x="686.12" y="2202.58">0</text><text x="686.12" y="2095.61">1</text><text x="686.12" y="1988.65">2</text></g><g font-family="'DejaVu Sans', sans-serif" font-size="36.49" fill="#262626" stroke="#262626" stroke-width="0.35" text-anchor="middle"><text x="374.85" y="2606.02">Epitope sequence</text><text transform="translate(67.55 2190.11) rotate(-90)" font-size="36.3">CDR3 sequence</text></g><g font-family="'Liberation Sans', sans-serif" font-size="37.6" fill="#262626" stroke="#262626" stroke-width="0.3" style="font-kerning:none"><text x="201.7" y="1807" font-size="37.45">Distances errors of</text><text x="103.3" y="1861.7">A6 TCR CDR3<tspan x="350.1" y="1858.1" font-family="'Liberation Serif', serif" font-style="italic" stroke="none" font-size="37.6" textLength="20.6" lengthAdjust="spacingAndGlyphs">β</tspan><tspan x="369.92" y="1861.7" font-size="37.7"> and Tax epitope</tspan></text></g></g>
<text x="-1.7" y="24.5" font-family="'Liberation Sans', sans-serif" font-weight="bold" font-size="46" fill="#000">a</text><text x="-1.9" y="896.9" font-family="'Liberation Sans', sans-serif" font-weight="bold" font-size="46" fill="#000">b</text><text x="-1.5" y="1808.5" font-family="'Liberation Sans', sans-serif" font-weight="bold" font-size="46" fill="#000">c</text></svg>
</body></html>
